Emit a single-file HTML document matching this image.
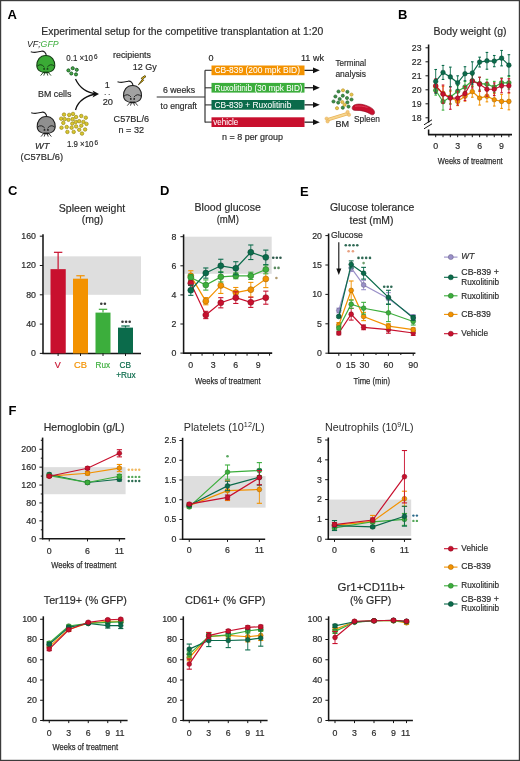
<!DOCTYPE html><html><head><meta charset="utf-8"><style>html,body{margin:0;padding:0;background:#fff;}svg{display:block;will-change:transform;font-family:"Liberation Sans",sans-serif;}</style></head><body>
<svg width="520" height="761" viewBox="0 0 520 761">
<rect x="0.00" y="0.00" width="520.00" height="761.00" fill="#fff" />
<text x="7.5" y="18.6" font-size="13" text-anchor="start" fill="#000" font-weight="bold" font-style="normal" >A</text>
<text x="41.3" y="35.3" font-size="10.5" text-anchor="start" fill="#2b2b2b" font-weight="normal" font-style="normal" textLength="282" lengthAdjust="spacingAndGlyphs"  stroke="#2b2b2b" stroke-width="0.18">Experimental setup for the competitive transplantation at 1:20</text>
<text x="27" y="47.1" font-size="9" font-style="italic" fill="#222" textLength="31.6" lengthAdjust="spacingAndGlyphs">VF;<tspan fill="#3cae3c">GFP</tspan></text>
<path d="M46.40,56.00 C46.00,52.90 44.00,50.60 41.30,51.20 C38.80,51.80 35.80,53.20 30.80,51.80" fill="none" stroke="#1e1e1e" stroke-width="1.15" />
<path d="M45.80,55.40 C52.00,55.40 54.80,60.50 54.80,65.50 C54.80,70.50 50.30,72.60 45.80,72.60 C41.30,72.60 36.80,70.50 36.80,65.50 C36.80,60.50 39.60,55.40 45.80,55.40 Z" fill="#3aaa35" stroke="#163d16" stroke-width="1.05"/>
<path d="M37.20,66.20 Q41.00,62.80 44.40,67.20" fill="none" stroke="#163d16" stroke-width="0.95" />
<path d="M54.40,66.20 Q50.60,62.80 47.20,67.20" fill="none" stroke="#163d16" stroke-width="0.95" />
<circle cx="44.10" cy="68.90" r="0.95" fill="#163d16" stroke="none" stroke-width="0" />
<circle cx="47.50" cy="68.90" r="0.95" fill="#163d16" stroke="none" stroke-width="0" />
<path d="M43.20,72.40 L48.40,72.40" fill="none" stroke="#163d16" stroke-width="1.5" />
<path d="M43.46,72.20 L40.60,75.60" fill="none" stroke="#163d16" stroke-width="0.85" />
<path d="M44.90,72.20 L43.80,75.60" fill="none" stroke="#163d16" stroke-width="0.85" />
<path d="M46.70,72.20 L47.80,75.60" fill="none" stroke="#163d16" stroke-width="0.85" />
<path d="M48.14,72.20 L51.00,75.60" fill="none" stroke="#163d16" stroke-width="0.85" />
<text x="66.3" y="60.5" font-size="8.8" text-anchor="start" fill="#2b2b2b" font-weight="normal" font-style="normal" textLength="26.6" lengthAdjust="spacingAndGlyphs"  stroke="#2b2b2b" stroke-width="0.18">0.1 ×10</text>
<text x="94.0" y="58.6" font-size="6.4" text-anchor="start" fill="#2b2b2b" font-weight="normal" font-style="normal"  stroke="#2b2b2b" stroke-width="0.18">6</text>
<circle cx="68.40" cy="70.40" r="1.55" fill="#45a845" stroke="#175a22" stroke-width="0.9" />
<circle cx="72.70" cy="68.20" r="1.55" fill="#45a845" stroke="#175a22" stroke-width="0.9" />
<circle cx="76.75" cy="69.80" r="1.55" fill="#45a845" stroke="#175a22" stroke-width="0.9" />
<circle cx="71.30" cy="73.50" r="1.55" fill="#45a845" stroke="#175a22" stroke-width="0.9" />
<circle cx="76.00" cy="74.40" r="1.55" fill="#45a845" stroke="#175a22" stroke-width="0.9" />
<text x="38" y="97.3" font-size="9" text-anchor="start" fill="#2b2b2b" font-weight="normal" font-style="normal" textLength="33.5" lengthAdjust="spacingAndGlyphs"  stroke="#2b2b2b" stroke-width="0.18">BM cells</text>
<path d="M75.5,79 C80,89 88,93 97,94" fill="none" stroke="#111" stroke-width="1.3" />
<path d="M75.5,110 C78,100 88,95 97,94" fill="none" stroke="#111" stroke-width="1.3" />
<path d="M99,94 L92.5,90.6 L94.2,94 L92.5,97.4 Z" fill="#111" stroke="none" stroke-width="1" />
<path d="M46.80,117.00 C46.40,113.90 44.40,111.60 41.70,112.20 C39.20,112.80 36.20,114.20 31.20,112.80" fill="none" stroke="#1e1e1e" stroke-width="1.15" />
<path d="M46.20,116.40 C52.40,116.40 55.20,121.50 55.20,126.50 C55.20,131.50 50.70,133.60 46.20,133.60 C41.70,133.60 37.20,131.50 37.20,126.50 C37.20,121.50 40.00,116.40 46.20,116.40 Z" fill="#8f8f8f" stroke="#1e1e1e" stroke-width="1.05"/>
<path d="M37.60,127.20 Q41.40,123.80 44.80,128.20" fill="none" stroke="#1e1e1e" stroke-width="0.95" />
<path d="M54.80,127.20 Q51.00,123.80 47.60,128.20" fill="none" stroke="#1e1e1e" stroke-width="0.95" />
<circle cx="44.50" cy="129.90" r="0.95" fill="#1e1e1e" stroke="none" stroke-width="0" />
<circle cx="47.90" cy="129.90" r="0.95" fill="#1e1e1e" stroke="none" stroke-width="0" />
<path d="M43.60,133.40 L48.80,133.40" fill="none" stroke="#1e1e1e" stroke-width="1.5" />
<path d="M43.86,133.20 L41.00,136.60" fill="none" stroke="#1e1e1e" stroke-width="0.85" />
<path d="M45.30,133.20 L44.20,136.60" fill="none" stroke="#1e1e1e" stroke-width="0.85" />
<path d="M47.10,133.20 L48.20,136.60" fill="none" stroke="#1e1e1e" stroke-width="0.85" />
<path d="M48.54,133.20 L51.40,136.60" fill="none" stroke="#1e1e1e" stroke-width="0.85" />
<circle cx="64.00" cy="114.60" r="1.75" fill="#d9c62c" stroke="#9a8a18" stroke-width="0.7" />
<circle cx="69.20" cy="114.90" r="1.75" fill="#d9c62c" stroke="#9a8a18" stroke-width="0.7" />
<circle cx="73.00" cy="113.90" r="1.75" fill="#d9c62c" stroke="#9a8a18" stroke-width="0.7" />
<circle cx="81.30" cy="116.00" r="1.75" fill="#d9c62c" stroke="#9a8a18" stroke-width="0.7" />
<circle cx="85.80" cy="117.70" r="1.75" fill="#d9c62c" stroke="#9a8a18" stroke-width="0.7" />
<circle cx="61.20" cy="118.70" r="1.75" fill="#d9c62c" stroke="#9a8a18" stroke-width="0.7" />
<circle cx="64.70" cy="119.10" r="1.75" fill="#d9c62c" stroke="#9a8a18" stroke-width="0.7" />
<circle cx="68.50" cy="119.80" r="1.75" fill="#d9c62c" stroke="#9a8a18" stroke-width="0.7" />
<circle cx="72.60" cy="119.10" r="1.75" fill="#d9c62c" stroke="#9a8a18" stroke-width="0.7" />
<circle cx="76.10" cy="117.00" r="1.75" fill="#d9c62c" stroke="#9a8a18" stroke-width="0.7" />
<circle cx="63.30" cy="122.90" r="1.75" fill="#d9c62c" stroke="#9a8a18" stroke-width="0.7" />
<circle cx="72.30" cy="123.60" r="1.75" fill="#d9c62c" stroke="#9a8a18" stroke-width="0.7" />
<circle cx="75.70" cy="121.90" r="1.75" fill="#d9c62c" stroke="#9a8a18" stroke-width="0.7" />
<circle cx="79.20" cy="121.20" r="1.75" fill="#d9c62c" stroke="#9a8a18" stroke-width="0.7" />
<circle cx="83.40" cy="121.90" r="1.75" fill="#d9c62c" stroke="#9a8a18" stroke-width="0.7" />
<circle cx="86.50" cy="123.90" r="1.75" fill="#d9c62c" stroke="#9a8a18" stroke-width="0.7" />
<circle cx="61.50" cy="127.70" r="1.75" fill="#d9c62c" stroke="#9a8a18" stroke-width="0.7" />
<circle cx="66.70" cy="127.00" r="1.75" fill="#d9c62c" stroke="#9a8a18" stroke-width="0.7" />
<circle cx="71.60" cy="127.70" r="1.75" fill="#d9c62c" stroke="#9a8a18" stroke-width="0.7" />
<circle cx="76.10" cy="126.40" r="1.75" fill="#d9c62c" stroke="#9a8a18" stroke-width="0.7" />
<circle cx="81.30" cy="125.70" r="1.75" fill="#d9c62c" stroke="#9a8a18" stroke-width="0.7" />
<circle cx="67.40" cy="131.90" r="1.75" fill="#d9c62c" stroke="#9a8a18" stroke-width="0.7" />
<circle cx="73.70" cy="131.90" r="1.75" fill="#d9c62c" stroke="#9a8a18" stroke-width="0.7" />
<circle cx="79.20" cy="129.80" r="1.75" fill="#d9c62c" stroke="#9a8a18" stroke-width="0.7" />
<circle cx="85.10" cy="129.50" r="1.75" fill="#d9c62c" stroke="#9a8a18" stroke-width="0.7" />
<circle cx="82.00" cy="133.60" r="1.75" fill="#d9c62c" stroke="#9a8a18" stroke-width="0.7" />
<text x="66.9" y="146.9" font-size="8.8" text-anchor="start" fill="#2b2b2b" font-weight="normal" font-style="normal" textLength="26.6" lengthAdjust="spacingAndGlyphs"  stroke="#2b2b2b" stroke-width="0.18">1.9 ×10</text>
<text x="94.6" y="145.0" font-size="6.4" text-anchor="start" fill="#2b2b2b" font-weight="normal" font-style="normal"  stroke="#2b2b2b" stroke-width="0.18">6</text>
<text x="35" y="148.6" font-size="9" text-anchor="start" fill="#2b2b2b" font-weight="normal" font-style="italic" textLength="14.4" lengthAdjust="spacingAndGlyphs"  stroke="#2b2b2b" stroke-width="0.18">WT</text>
<text x="20.6" y="160" font-size="9" text-anchor="start" fill="#2b2b2b" font-weight="normal" font-style="normal" textLength="42.4" lengthAdjust="spacingAndGlyphs"  stroke="#2b2b2b" stroke-width="0.18">(C57BL/6)</text>
<text x="113" y="57.5" font-size="9" text-anchor="start" fill="#2b2b2b" font-weight="normal" font-style="normal" textLength="38" lengthAdjust="spacingAndGlyphs"  stroke="#2b2b2b" stroke-width="0.18">recipients</text>
<text x="132.7" y="70.4" font-size="9" text-anchor="start" fill="#2b2b2b" font-weight="normal" font-style="normal" textLength="24" lengthAdjust="spacingAndGlyphs"  stroke="#2b2b2b" stroke-width="0.18">12 Gy</text>
<path d="M144.8,75.6 L141.2,78.2 L142.2,79.6 L138.4,84.8 L143.6,80.4 L142.6,79.0 L146,76.6 Z" fill="#f0c21a" stroke="#3a3000" stroke-width="0.8" />
<path d="M133.10,86.00 C132.70,82.90 130.70,80.60 128.00,81.20 C125.50,81.80 122.50,83.20 117.50,81.80" fill="none" stroke="#1e1e1e" stroke-width="1.15" />
<path d="M132.50,85.40 C138.70,85.40 141.50,90.50 141.50,95.50 C141.50,100.50 137.00,102.60 132.50,102.60 C128.00,102.60 123.50,100.50 123.50,95.50 C123.50,90.50 126.30,85.40 132.50,85.40 Z" fill="#a2a2a2" stroke="#1e1e1e" stroke-width="1.05"/>
<path d="M123.90,96.20 Q127.70,92.80 131.10,97.20" fill="none" stroke="#1e1e1e" stroke-width="0.95" />
<path d="M141.10,96.20 Q137.30,92.80 133.90,97.20" fill="none" stroke="#1e1e1e" stroke-width="0.95" />
<circle cx="130.80" cy="98.90" r="0.95" fill="#1e1e1e" stroke="none" stroke-width="0" />
<circle cx="134.20" cy="98.90" r="0.95" fill="#1e1e1e" stroke="none" stroke-width="0" />
<path d="M129.90,102.40 L135.10,102.40" fill="none" stroke="#1e1e1e" stroke-width="1.5" />
<path d="M130.16,102.20 L127.30,105.60" fill="none" stroke="#1e1e1e" stroke-width="0.85" />
<path d="M131.60,102.20 L130.50,105.60" fill="none" stroke="#1e1e1e" stroke-width="0.85" />
<path d="M133.40,102.20 L134.50,105.60" fill="none" stroke="#1e1e1e" stroke-width="0.85" />
<path d="M134.84,102.20 L137.70,105.60" fill="none" stroke="#1e1e1e" stroke-width="0.85" />
<text x="107.2" y="88" font-size="9" text-anchor="middle" fill="#2b2b2b" font-weight="normal" font-style="normal"  stroke="#2b2b2b" stroke-width="0.18">1</text>
<text x="107.2" y="95.2" font-size="7" text-anchor="middle" fill="#2b2b2b" font-weight="normal" font-style="normal"  stroke="#2b2b2b" stroke-width="0.18">. .</text>
<text x="102.7" y="104.6" font-size="9" text-anchor="start" fill="#2b2b2b" font-weight="normal" font-style="normal" textLength="10.3" lengthAdjust="spacingAndGlyphs"  stroke="#2b2b2b" stroke-width="0.18">20</text>
<text x="113.6" y="122" font-size="9" text-anchor="start" fill="#2b2b2b" font-weight="normal" font-style="normal" textLength="35.4" lengthAdjust="spacingAndGlyphs"  stroke="#2b2b2b" stroke-width="0.18">C57BL/6</text>
<text x="118.5" y="132.5" font-size="9" text-anchor="start" fill="#2b2b2b" font-weight="normal" font-style="normal" textLength="25.5" lengthAdjust="spacingAndGlyphs"  stroke="#2b2b2b" stroke-width="0.18">n = 32</text>
<line x1="156.70" y1="97.00" x2="205.00" y2="97.00" stroke="#333" stroke-width="1.2" />
<line x1="205.00" y1="70.30" x2="205.00" y2="122.60" stroke="#333" stroke-width="1.2" />
<line x1="205.00" y1="70.30" x2="212.00" y2="70.30" stroke="#333" stroke-width="1.1" />
<line x1="205.00" y1="87.80" x2="212.00" y2="87.80" stroke="#333" stroke-width="1.1" />
<line x1="205.00" y1="104.90" x2="212.00" y2="104.90" stroke="#333" stroke-width="1.1" />
<line x1="205.00" y1="122.10" x2="212.00" y2="122.10" stroke="#333" stroke-width="1.1" />
<text x="163" y="93.3" font-size="9" text-anchor="start" fill="#2b2b2b" font-weight="normal" font-style="normal" textLength="32" lengthAdjust="spacingAndGlyphs"  stroke="#2b2b2b" stroke-width="0.18">6 weeks</text>
<text x="160.6" y="108.6" font-size="9" text-anchor="start" fill="#2b2b2b" font-weight="normal" font-style="normal" textLength="36.4" lengthAdjust="spacingAndGlyphs"  stroke="#2b2b2b" stroke-width="0.18">to engraft</text>
<text x="208.6" y="60.6" font-size="9" text-anchor="start" fill="#2b2b2b" font-weight="normal" font-style="normal"  stroke="#2b2b2b" stroke-width="0.18">0</text>
<text x="301" y="60.6" font-size="9" text-anchor="start" fill="#2b2b2b" font-weight="normal" font-style="normal" textLength="23" lengthAdjust="spacingAndGlyphs"  stroke="#2b2b2b" stroke-width="0.18">11 wk</text>
<rect x="211.50" y="65.50" width="93.00" height="9.70" fill="#f39200" />
<text x="214.5" y="73.4" font-size="8.6" text-anchor="start" fill="#fff" font-weight="normal" font-style="normal" textLength="85.5" lengthAdjust="spacingAndGlyphs" stroke="#fff" stroke-width="0.05">CB-839 (200 mpk BID)</text>
<line x1="304.50" y1="70.35" x2="314.00" y2="70.35" stroke="#111" stroke-width="1.2" />
<path d="M319.8,70.35 L313,67.40 L313,73.30 Z" fill="#111" stroke="none" stroke-width="1" />
<rect x="211.50" y="82.90" width="93.00" height="9.70" fill="#3cae3c" />
<text x="214.5" y="90.80000000000001" font-size="8.6" text-anchor="start" fill="#fff" font-weight="normal" font-style="normal" textLength="88" lengthAdjust="spacingAndGlyphs" stroke="#fff" stroke-width="0.05">Ruxolitinib (30 mpk BID)</text>
<line x1="304.50" y1="87.75" x2="314.00" y2="87.75" stroke="#111" stroke-width="1.2" />
<path d="M319.8,87.75 L313,84.80 L313,90.70 Z" fill="#111" stroke="none" stroke-width="1" />
<rect x="211.50" y="100.00" width="93.00" height="9.70" fill="#0b6b4b" />
<text x="214.5" y="107.9" font-size="8.6" text-anchor="start" fill="#fff" font-weight="normal" font-style="normal" textLength="76.8" lengthAdjust="spacingAndGlyphs" stroke="#fff" stroke-width="0.05">CB-839 + Ruxolitinib</text>
<line x1="304.50" y1="104.85" x2="314.00" y2="104.85" stroke="#111" stroke-width="1.2" />
<path d="M319.8,104.85 L313,101.90 L313,107.80 Z" fill="#111" stroke="none" stroke-width="1" />
<rect x="211.50" y="117.30" width="93.00" height="9.70" fill="#c8102e" />
<text x="213.2" y="125.2" font-size="8.6" text-anchor="start" fill="#fff" font-weight="normal" font-style="normal" textLength="25" lengthAdjust="spacingAndGlyphs" stroke="#fff" stroke-width="0.05">vehicle</text>
<line x1="304.50" y1="122.15" x2="314.00" y2="122.15" stroke="#111" stroke-width="1.2" />
<path d="M319.8,122.15 L313,119.20 L313,125.10 Z" fill="#111" stroke="none" stroke-width="1" />
<text x="222" y="139.8" font-size="9" text-anchor="start" fill="#2b2b2b" font-weight="normal" font-style="normal" textLength="61" lengthAdjust="spacingAndGlyphs"  stroke="#2b2b2b" stroke-width="0.18">n = 8 per group</text>
<text x="335.4" y="66" font-size="9" text-anchor="start" fill="#2b2b2b" font-weight="normal" font-style="normal" textLength="30.6" lengthAdjust="spacingAndGlyphs"  stroke="#2b2b2b" stroke-width="0.18">Terminal</text>
<text x="335.4" y="76.8" font-size="9" text-anchor="start" fill="#2b2b2b" font-weight="normal" font-style="normal" textLength="30.6" lengthAdjust="spacingAndGlyphs"  stroke="#2b2b2b" stroke-width="0.18">analysis</text>
<circle cx="338.50" cy="91.50" r="1.60" fill="#3d8f45" stroke="#1f5a2a" stroke-width="0.6" />
<circle cx="343.00" cy="90.30" r="1.60" fill="#e6c64a" stroke="#b8902a" stroke-width="0.6" />
<circle cx="347.40" cy="91.80" r="1.60" fill="#3d8f45" stroke="#1f5a2a" stroke-width="0.6" />
<circle cx="351.50" cy="94.60" r="1.60" fill="#e6c64a" stroke="#b8902a" stroke-width="0.6" />
<circle cx="335.40" cy="96.50" r="1.60" fill="#3d8f45" stroke="#1f5a2a" stroke-width="0.6" />
<circle cx="342.80" cy="95.70" r="1.60" fill="#3d8f45" stroke="#1f5a2a" stroke-width="0.6" />
<circle cx="339.70" cy="99.00" r="1.60" fill="#3d8f45" stroke="#1f5a2a" stroke-width="0.6" />
<circle cx="347.00" cy="98.00" r="1.60" fill="#3d8f45" stroke="#1f5a2a" stroke-width="0.6" />
<circle cx="351.50" cy="99.50" r="1.60" fill="#3d8f45" stroke="#1f5a2a" stroke-width="0.6" />
<circle cx="333.50" cy="101.50" r="1.60" fill="#3d8f45" stroke="#1f5a2a" stroke-width="0.6" />
<circle cx="338.20" cy="102.60" r="1.60" fill="#3d8f45" stroke="#1f5a2a" stroke-width="0.6" />
<circle cx="342.30" cy="102.00" r="1.60" fill="#e6c64a" stroke="#b8902a" stroke-width="0.6" />
<circle cx="347.40" cy="102.30" r="1.60" fill="#3d8f45" stroke="#1f5a2a" stroke-width="0.6" />
<circle cx="337.00" cy="108.20" r="1.60" fill="#e6c64a" stroke="#b8902a" stroke-width="0.6" />
<circle cx="342.80" cy="107.70" r="1.60" fill="#3d8f45" stroke="#1f5a2a" stroke-width="0.6" />
<circle cx="348.50" cy="106.60" r="1.60" fill="#3d8f45" stroke="#1f5a2a" stroke-width="0.6" />
<circle cx="344.60" cy="104.80" r="1.60" fill="#e6c64a" stroke="#b8902a" stroke-width="0.6" />
<path d="M328,119.6 L347.6,113.6" fill="none" stroke="#e9b45a" stroke-width="3.4" stroke-linecap="round"/>
<path d="M328,119.6 L347.6,113.6" fill="none" stroke="#f7d58e" stroke-width="2.0" stroke-linecap="round"/>
<circle cx="326.60" cy="118.60" r="1.70" fill="#f3c878" stroke="#e0a850" stroke-width="0.4" />
<circle cx="327.60" cy="121.40" r="1.70" fill="#f3c878" stroke="#e0a850" stroke-width="0.4" />
<circle cx="347.60" cy="112.00" r="1.70" fill="#f3c878" stroke="#e0a850" stroke-width="0.4" />
<circle cx="349.00" cy="114.80" r="1.70" fill="#f3c878" stroke="#e0a850" stroke-width="0.4" />
<path d="M352.3,107.2 C353.5,103.6 360,103.4 365.5,105.2 C370.5,106.8 374.8,109.5 374.6,112.6 C374.4,115.2 371.8,115.4 369.8,113.8 C366.5,111.4 361,110.2 356,110.4 C353.2,110.6 351.6,109.4 352.3,107.2 Z" fill="#c8102e" stroke="#8f0c22" stroke-width="0.6" />
<path d="M355,106.3 C359,105.6 364,106.2 367.5,107.5" fill="none" stroke="#e4506a" stroke-width="0.7" />
<text x="354" y="122" font-size="9" text-anchor="start" fill="#2b2b2b" font-weight="normal" font-style="normal" textLength="26" lengthAdjust="spacingAndGlyphs"  stroke="#2b2b2b" stroke-width="0.18">Spleen</text>
<text x="335.4" y="127" font-size="9" text-anchor="start" fill="#2b2b2b" font-weight="normal" font-style="normal" textLength="13.6" lengthAdjust="spacingAndGlyphs"  stroke="#2b2b2b" stroke-width="0.18">BM</text>
<text x="398" y="18.8" font-size="13" text-anchor="start" fill="#000" font-weight="bold" font-style="normal" >B</text>
<text x="433.5" y="35.2" font-size="10.5" text-anchor="start" fill="#2b2b2b" font-weight="normal" font-style="normal" textLength="73" lengthAdjust="spacingAndGlyphs"  stroke="#2b2b2b" stroke-width="0.18">Body weight (g)</text>
<line x1="428.60" y1="44.50" x2="428.60" y2="122.50" stroke="#161616" stroke-width="1.55" />
<line x1="428.60" y1="129.50" x2="428.60" y2="134.60" stroke="#161616" stroke-width="1.55" />
<line x1="424.00" y1="124.80" x2="432.00" y2="119.80" stroke="#161616" stroke-width="1.0" />
<line x1="424.00" y1="128.80" x2="432.00" y2="123.80" stroke="#161616" stroke-width="1.0" />
<line x1="425.50" y1="47.80" x2="428.60" y2="47.80" stroke="#161616" stroke-width="1" />
<text x="421.5" y="50.699999999999996" font-size="8.2" text-anchor="end" fill="#2b2b2b" font-weight="normal" font-style="normal" textLength="9.7" lengthAdjust="spacingAndGlyphs"  stroke="#2b2b2b" stroke-width="0.18">23</text>
<line x1="425.50" y1="61.80" x2="428.60" y2="61.80" stroke="#161616" stroke-width="1" />
<text x="421.5" y="64.7" font-size="8.2" text-anchor="end" fill="#2b2b2b" font-weight="normal" font-style="normal" textLength="9.7" lengthAdjust="spacingAndGlyphs"  stroke="#2b2b2b" stroke-width="0.18">22</text>
<line x1="425.50" y1="75.80" x2="428.60" y2="75.80" stroke="#161616" stroke-width="1" />
<text x="421.5" y="78.7" font-size="8.2" text-anchor="end" fill="#2b2b2b" font-weight="normal" font-style="normal" textLength="9.7" lengthAdjust="spacingAndGlyphs"  stroke="#2b2b2b" stroke-width="0.18">21</text>
<line x1="425.50" y1="89.80" x2="428.60" y2="89.80" stroke="#161616" stroke-width="1" />
<text x="421.5" y="92.7" font-size="8.2" text-anchor="end" fill="#2b2b2b" font-weight="normal" font-style="normal" textLength="9.7" lengthAdjust="spacingAndGlyphs"  stroke="#2b2b2b" stroke-width="0.18">20</text>
<line x1="425.50" y1="103.80" x2="428.60" y2="103.80" stroke="#161616" stroke-width="1" />
<text x="421.5" y="106.7" font-size="8.2" text-anchor="end" fill="#2b2b2b" font-weight="normal" font-style="normal" textLength="9.7" lengthAdjust="spacingAndGlyphs"  stroke="#2b2b2b" stroke-width="0.18">19</text>
<line x1="425.50" y1="117.80" x2="428.60" y2="117.80" stroke="#161616" stroke-width="1" />
<text x="421.5" y="120.7" font-size="8.2" text-anchor="end" fill="#2b2b2b" font-weight="normal" font-style="normal" textLength="9.7" lengthAdjust="spacingAndGlyphs"  stroke="#2b2b2b" stroke-width="0.18">18</text>
<line x1="428.00" y1="134.60" x2="512.00" y2="134.60" stroke="#161616" stroke-width="1.55" />
<line x1="435.70" y1="134.60" x2="435.70" y2="137.20" stroke="#161616" stroke-width="1" />
<line x1="443.02" y1="134.60" x2="443.02" y2="137.20" stroke="#161616" stroke-width="1" />
<line x1="450.34" y1="134.60" x2="450.34" y2="137.20" stroke="#161616" stroke-width="1" />
<line x1="457.66" y1="134.60" x2="457.66" y2="137.20" stroke="#161616" stroke-width="1" />
<line x1="464.98" y1="134.60" x2="464.98" y2="137.20" stroke="#161616" stroke-width="1" />
<line x1="472.30" y1="134.60" x2="472.30" y2="137.20" stroke="#161616" stroke-width="1" />
<line x1="479.62" y1="134.60" x2="479.62" y2="137.20" stroke="#161616" stroke-width="1" />
<line x1="486.94" y1="134.60" x2="486.94" y2="137.20" stroke="#161616" stroke-width="1" />
<line x1="494.26" y1="134.60" x2="494.26" y2="137.20" stroke="#161616" stroke-width="1" />
<line x1="501.58" y1="134.60" x2="501.58" y2="137.20" stroke="#161616" stroke-width="1" />
<line x1="508.90" y1="134.60" x2="508.90" y2="137.20" stroke="#161616" stroke-width="1" />
<text x="435.7" y="148.8" font-size="8.2" text-anchor="middle" fill="#2b2b2b" font-weight="normal" font-style="normal" textLength="4.9" lengthAdjust="spacingAndGlyphs"  stroke="#2b2b2b" stroke-width="0.18">0</text>
<text x="457.65999999999997" y="148.8" font-size="8.2" text-anchor="middle" fill="#2b2b2b" font-weight="normal" font-style="normal" textLength="4.9" lengthAdjust="spacingAndGlyphs"  stroke="#2b2b2b" stroke-width="0.18">3</text>
<text x="479.62" y="148.8" font-size="8.2" text-anchor="middle" fill="#2b2b2b" font-weight="normal" font-style="normal" textLength="4.9" lengthAdjust="spacingAndGlyphs"  stroke="#2b2b2b" stroke-width="0.18">6</text>
<text x="501.58" y="148.8" font-size="8.2" text-anchor="middle" fill="#2b2b2b" font-weight="normal" font-style="normal" textLength="4.9" lengthAdjust="spacingAndGlyphs"  stroke="#2b2b2b" stroke-width="0.18">9</text>
<text x="437.8" y="163.6" font-size="9.9" text-anchor="start" fill="#2b2b2b" font-weight="normal" font-style="normal" textLength="64.9" lengthAdjust="spacingAndGlyphs" stroke="#2b2b2b" stroke-width="0.25">Weeks of treatment</text>
<path d="M435.70,86.30 L443.02,93.30 L450.34,97.50 L457.66,101.42 L464.98,96.24 L472.30,91.62 L479.62,98.06 L486.94,96.24 L494.26,99.74 L501.58,101.42 L508.90,101.42" fill="none" stroke="#f39200" stroke-width="1.2" />
<line x1="435.70" y1="80.00" x2="435.70" y2="92.60" stroke="#f39200" stroke-width="0.9" />
<line x1="434.40" y1="80.00" x2="437.00" y2="80.00" stroke="#f39200" stroke-width="1.1" />
<line x1="434.40" y1="92.60" x2="437.00" y2="92.60" stroke="#f39200" stroke-width="1.1" />
<line x1="443.02" y1="86.30" x2="443.02" y2="100.30" stroke="#f39200" stroke-width="0.9" />
<line x1="441.72" y1="86.30" x2="444.32" y2="86.30" stroke="#f39200" stroke-width="1.1" />
<line x1="441.72" y1="100.30" x2="444.32" y2="100.30" stroke="#f39200" stroke-width="1.1" />
<line x1="450.34" y1="91.20" x2="450.34" y2="103.80" stroke="#f39200" stroke-width="0.9" />
<line x1="449.04" y1="91.20" x2="451.64" y2="91.20" stroke="#f39200" stroke-width="1.1" />
<line x1="449.04" y1="103.80" x2="451.64" y2="103.80" stroke="#f39200" stroke-width="1.1" />
<line x1="457.66" y1="97.22" x2="457.66" y2="105.62" stroke="#f39200" stroke-width="0.9" />
<line x1="456.36" y1="97.22" x2="458.96" y2="97.22" stroke="#f39200" stroke-width="1.1" />
<line x1="456.36" y1="105.62" x2="458.96" y2="105.62" stroke="#f39200" stroke-width="1.1" />
<line x1="464.98" y1="91.34" x2="464.98" y2="101.14" stroke="#f39200" stroke-width="0.9" />
<line x1="463.68" y1="91.34" x2="466.28" y2="91.34" stroke="#f39200" stroke-width="1.1" />
<line x1="463.68" y1="101.14" x2="466.28" y2="101.14" stroke="#f39200" stroke-width="1.1" />
<line x1="472.30" y1="86.02" x2="472.30" y2="97.22" stroke="#f39200" stroke-width="0.9" />
<line x1="471.00" y1="86.02" x2="473.60" y2="86.02" stroke="#f39200" stroke-width="1.1" />
<line x1="471.00" y1="97.22" x2="473.60" y2="97.22" stroke="#f39200" stroke-width="1.1" />
<line x1="479.62" y1="91.06" x2="479.62" y2="105.06" stroke="#f39200" stroke-width="0.9" />
<line x1="478.32" y1="91.06" x2="480.92" y2="91.06" stroke="#f39200" stroke-width="1.1" />
<line x1="478.32" y1="105.06" x2="480.92" y2="105.06" stroke="#f39200" stroke-width="1.1" />
<line x1="486.94" y1="90.64" x2="486.94" y2="101.84" stroke="#f39200" stroke-width="0.9" />
<line x1="485.64" y1="90.64" x2="488.24" y2="90.64" stroke="#f39200" stroke-width="1.1" />
<line x1="485.64" y1="101.84" x2="488.24" y2="101.84" stroke="#f39200" stroke-width="1.1" />
<line x1="494.26" y1="93.44" x2="494.26" y2="106.04" stroke="#f39200" stroke-width="0.9" />
<line x1="492.96" y1="93.44" x2="495.56" y2="93.44" stroke="#f39200" stroke-width="1.1" />
<line x1="492.96" y1="106.04" x2="495.56" y2="106.04" stroke="#f39200" stroke-width="1.1" />
<line x1="501.58" y1="94.42" x2="501.58" y2="108.42" stroke="#f39200" stroke-width="0.9" />
<line x1="500.28" y1="94.42" x2="502.88" y2="94.42" stroke="#f39200" stroke-width="1.1" />
<line x1="500.28" y1="108.42" x2="502.88" y2="108.42" stroke="#f39200" stroke-width="1.1" />
<line x1="508.90" y1="93.02" x2="508.90" y2="109.82" stroke="#f39200" stroke-width="0.9" />
<line x1="507.60" y1="93.02" x2="510.20" y2="93.02" stroke="#f39200" stroke-width="1.1" />
<line x1="507.60" y1="109.82" x2="510.20" y2="109.82" stroke="#f39200" stroke-width="1.1" />
<circle cx="435.70" cy="86.30" r="2.30" fill="#f39200" stroke="#9d5e00" stroke-width="0.5" />
<circle cx="443.02" cy="93.30" r="2.30" fill="#f39200" stroke="#9d5e00" stroke-width="0.5" />
<circle cx="450.34" cy="97.50" r="2.30" fill="#f39200" stroke="#9d5e00" stroke-width="0.5" />
<circle cx="457.66" cy="101.42" r="2.30" fill="#f39200" stroke="#9d5e00" stroke-width="0.5" />
<circle cx="464.98" cy="96.24" r="2.30" fill="#f39200" stroke="#9d5e00" stroke-width="0.5" />
<circle cx="472.30" cy="91.62" r="2.30" fill="#f39200" stroke="#9d5e00" stroke-width="0.5" />
<circle cx="479.62" cy="98.06" r="2.30" fill="#f39200" stroke="#9d5e00" stroke-width="0.5" />
<circle cx="486.94" cy="96.24" r="2.30" fill="#f39200" stroke="#9d5e00" stroke-width="0.5" />
<circle cx="494.26" cy="99.74" r="2.30" fill="#f39200" stroke="#9d5e00" stroke-width="0.5" />
<circle cx="501.58" cy="101.42" r="2.30" fill="#f39200" stroke="#9d5e00" stroke-width="0.5" />
<circle cx="508.90" cy="101.42" r="2.30" fill="#f39200" stroke="#9d5e00" stroke-width="0.5" />
<path d="M435.70,90.22 L443.02,101.70 L450.34,97.08 L457.66,91.20 L464.98,87.00 L472.30,80.70 L479.62,83.64 L486.94,84.20 L494.26,87.00 L501.58,82.80 L508.90,82.80" fill="none" stroke="#3cae3c" stroke-width="1.2" />
<line x1="435.70" y1="85.32" x2="435.70" y2="95.12" stroke="#3cae3c" stroke-width="0.9" />
<line x1="434.40" y1="85.32" x2="437.00" y2="85.32" stroke="#3cae3c" stroke-width="1.1" />
<line x1="434.40" y1="95.12" x2="437.00" y2="95.12" stroke="#3cae3c" stroke-width="1.1" />
<line x1="443.02" y1="93.30" x2="443.02" y2="110.10" stroke="#3cae3c" stroke-width="0.9" />
<line x1="441.72" y1="93.30" x2="444.32" y2="93.30" stroke="#3cae3c" stroke-width="1.1" />
<line x1="441.72" y1="110.10" x2="444.32" y2="110.10" stroke="#3cae3c" stroke-width="1.1" />
<line x1="450.34" y1="90.08" x2="450.34" y2="104.08" stroke="#3cae3c" stroke-width="0.9" />
<line x1="449.04" y1="90.08" x2="451.64" y2="90.08" stroke="#3cae3c" stroke-width="1.1" />
<line x1="449.04" y1="104.08" x2="451.64" y2="104.08" stroke="#3cae3c" stroke-width="1.1" />
<line x1="457.66" y1="85.60" x2="457.66" y2="96.80" stroke="#3cae3c" stroke-width="0.9" />
<line x1="456.36" y1="85.60" x2="458.96" y2="85.60" stroke="#3cae3c" stroke-width="1.1" />
<line x1="456.36" y1="96.80" x2="458.96" y2="96.80" stroke="#3cae3c" stroke-width="1.1" />
<line x1="464.98" y1="81.40" x2="464.98" y2="92.60" stroke="#3cae3c" stroke-width="0.9" />
<line x1="463.68" y1="81.40" x2="466.28" y2="81.40" stroke="#3cae3c" stroke-width="1.1" />
<line x1="463.68" y1="92.60" x2="466.28" y2="92.60" stroke="#3cae3c" stroke-width="1.1" />
<line x1="472.30" y1="75.10" x2="472.30" y2="86.30" stroke="#3cae3c" stroke-width="0.9" />
<line x1="471.00" y1="75.10" x2="473.60" y2="75.10" stroke="#3cae3c" stroke-width="1.1" />
<line x1="471.00" y1="86.30" x2="473.60" y2="86.30" stroke="#3cae3c" stroke-width="1.1" />
<line x1="479.62" y1="77.34" x2="479.62" y2="89.94" stroke="#3cae3c" stroke-width="0.9" />
<line x1="478.32" y1="77.34" x2="480.92" y2="77.34" stroke="#3cae3c" stroke-width="1.1" />
<line x1="478.32" y1="89.94" x2="480.92" y2="89.94" stroke="#3cae3c" stroke-width="1.1" />
<line x1="486.94" y1="79.30" x2="486.94" y2="89.10" stroke="#3cae3c" stroke-width="0.9" />
<line x1="485.64" y1="79.30" x2="488.24" y2="79.30" stroke="#3cae3c" stroke-width="1.1" />
<line x1="485.64" y1="89.10" x2="488.24" y2="89.10" stroke="#3cae3c" stroke-width="1.1" />
<line x1="494.26" y1="81.40" x2="494.26" y2="92.60" stroke="#3cae3c" stroke-width="0.9" />
<line x1="492.96" y1="81.40" x2="495.56" y2="81.40" stroke="#3cae3c" stroke-width="1.1" />
<line x1="492.96" y1="92.60" x2="495.56" y2="92.60" stroke="#3cae3c" stroke-width="1.1" />
<line x1="501.58" y1="77.90" x2="501.58" y2="87.70" stroke="#3cae3c" stroke-width="0.9" />
<line x1="500.28" y1="77.90" x2="502.88" y2="77.90" stroke="#3cae3c" stroke-width="1.1" />
<line x1="500.28" y1="87.70" x2="502.88" y2="87.70" stroke="#3cae3c" stroke-width="1.1" />
<line x1="508.90" y1="76.50" x2="508.90" y2="89.10" stroke="#3cae3c" stroke-width="0.9" />
<line x1="507.60" y1="76.50" x2="510.20" y2="76.50" stroke="#3cae3c" stroke-width="1.1" />
<line x1="507.60" y1="89.10" x2="510.20" y2="89.10" stroke="#3cae3c" stroke-width="1.1" />
<circle cx="435.70" cy="90.22" r="2.30" fill="#3cae3c" stroke="#277127" stroke-width="0.5" />
<circle cx="443.02" cy="101.70" r="2.30" fill="#3cae3c" stroke="#277127" stroke-width="0.5" />
<circle cx="450.34" cy="97.08" r="2.30" fill="#3cae3c" stroke="#277127" stroke-width="0.5" />
<circle cx="457.66" cy="91.20" r="2.30" fill="#3cae3c" stroke="#277127" stroke-width="0.5" />
<circle cx="464.98" cy="87.00" r="2.30" fill="#3cae3c" stroke="#277127" stroke-width="0.5" />
<circle cx="472.30" cy="80.70" r="2.30" fill="#3cae3c" stroke="#277127" stroke-width="0.5" />
<circle cx="479.62" cy="83.64" r="2.30" fill="#3cae3c" stroke="#277127" stroke-width="0.5" />
<circle cx="486.94" cy="84.20" r="2.30" fill="#3cae3c" stroke="#277127" stroke-width="0.5" />
<circle cx="494.26" cy="87.00" r="2.30" fill="#3cae3c" stroke="#277127" stroke-width="0.5" />
<circle cx="501.58" cy="82.80" r="2.30" fill="#3cae3c" stroke="#277127" stroke-width="0.5" />
<circle cx="508.90" cy="82.80" r="2.30" fill="#3cae3c" stroke="#277127" stroke-width="0.5" />
<path d="M435.70,85.74 L443.02,94.14 L450.34,98.06 L457.66,98.06 L464.98,93.58 L472.30,80.98 L479.62,84.20 L486.94,89.24 L494.26,89.24 L501.58,85.74 L508.90,85.74" fill="none" stroke="#c8102e" stroke-width="1.2" />
<line x1="435.70" y1="78.74" x2="435.70" y2="92.74" stroke="#c8102e" stroke-width="0.9" />
<line x1="434.40" y1="78.74" x2="437.00" y2="78.74" stroke="#c8102e" stroke-width="1.1" />
<line x1="434.40" y1="92.74" x2="437.00" y2="92.74" stroke="#c8102e" stroke-width="1.1" />
<line x1="443.02" y1="85.04" x2="443.02" y2="103.24" stroke="#c8102e" stroke-width="0.9" />
<line x1="441.72" y1="85.04" x2="444.32" y2="85.04" stroke="#c8102e" stroke-width="1.1" />
<line x1="441.72" y1="103.24" x2="444.32" y2="103.24" stroke="#c8102e" stroke-width="1.1" />
<line x1="450.34" y1="86.86" x2="450.34" y2="109.26" stroke="#c8102e" stroke-width="0.9" />
<line x1="449.04" y1="86.86" x2="451.64" y2="86.86" stroke="#c8102e" stroke-width="1.1" />
<line x1="449.04" y1="109.26" x2="451.64" y2="109.26" stroke="#c8102e" stroke-width="1.1" />
<line x1="457.66" y1="91.06" x2="457.66" y2="105.06" stroke="#c8102e" stroke-width="0.9" />
<line x1="456.36" y1="91.06" x2="458.96" y2="91.06" stroke="#c8102e" stroke-width="1.1" />
<line x1="456.36" y1="105.06" x2="458.96" y2="105.06" stroke="#c8102e" stroke-width="1.1" />
<line x1="464.98" y1="86.58" x2="464.98" y2="100.58" stroke="#c8102e" stroke-width="0.9" />
<line x1="463.68" y1="86.58" x2="466.28" y2="86.58" stroke="#c8102e" stroke-width="1.1" />
<line x1="463.68" y1="100.58" x2="466.28" y2="100.58" stroke="#c8102e" stroke-width="1.1" />
<line x1="472.30" y1="73.98" x2="472.30" y2="87.98" stroke="#c8102e" stroke-width="0.9" />
<line x1="471.00" y1="73.98" x2="473.60" y2="73.98" stroke="#c8102e" stroke-width="1.1" />
<line x1="471.00" y1="87.98" x2="473.60" y2="87.98" stroke="#c8102e" stroke-width="1.1" />
<line x1="479.62" y1="77.20" x2="479.62" y2="91.20" stroke="#c8102e" stroke-width="0.9" />
<line x1="478.32" y1="77.20" x2="480.92" y2="77.20" stroke="#c8102e" stroke-width="1.1" />
<line x1="478.32" y1="91.20" x2="480.92" y2="91.20" stroke="#c8102e" stroke-width="1.1" />
<line x1="486.94" y1="82.24" x2="486.94" y2="96.24" stroke="#c8102e" stroke-width="0.9" />
<line x1="485.64" y1="82.24" x2="488.24" y2="82.24" stroke="#c8102e" stroke-width="1.1" />
<line x1="485.64" y1="96.24" x2="488.24" y2="96.24" stroke="#c8102e" stroke-width="1.1" />
<line x1="494.26" y1="82.94" x2="494.26" y2="95.54" stroke="#c8102e" stroke-width="0.9" />
<line x1="492.96" y1="82.94" x2="495.56" y2="82.94" stroke="#c8102e" stroke-width="1.1" />
<line x1="492.96" y1="95.54" x2="495.56" y2="95.54" stroke="#c8102e" stroke-width="1.1" />
<line x1="501.58" y1="78.74" x2="501.58" y2="92.74" stroke="#c8102e" stroke-width="0.9" />
<line x1="500.28" y1="78.74" x2="502.88" y2="78.74" stroke="#c8102e" stroke-width="1.1" />
<line x1="500.28" y1="92.74" x2="502.88" y2="92.74" stroke="#c8102e" stroke-width="1.1" />
<line x1="508.90" y1="78.74" x2="508.90" y2="92.74" stroke="#c8102e" stroke-width="0.9" />
<line x1="507.60" y1="78.74" x2="510.20" y2="78.74" stroke="#c8102e" stroke-width="1.1" />
<line x1="507.60" y1="92.74" x2="510.20" y2="92.74" stroke="#c8102e" stroke-width="1.1" />
<circle cx="435.70" cy="85.74" r="2.30" fill="#c8102e" stroke="#820a1d" stroke-width="0.5" />
<circle cx="443.02" cy="94.14" r="2.30" fill="#c8102e" stroke="#820a1d" stroke-width="0.5" />
<circle cx="450.34" cy="98.06" r="2.30" fill="#c8102e" stroke="#820a1d" stroke-width="0.5" />
<circle cx="457.66" cy="98.06" r="2.30" fill="#c8102e" stroke="#820a1d" stroke-width="0.5" />
<circle cx="464.98" cy="93.58" r="2.30" fill="#c8102e" stroke="#820a1d" stroke-width="0.5" />
<circle cx="472.30" cy="80.98" r="2.30" fill="#c8102e" stroke="#820a1d" stroke-width="0.5" />
<circle cx="479.62" cy="84.20" r="2.30" fill="#c8102e" stroke="#820a1d" stroke-width="0.5" />
<circle cx="486.94" cy="89.24" r="2.30" fill="#c8102e" stroke="#820a1d" stroke-width="0.5" />
<circle cx="494.26" cy="89.24" r="2.30" fill="#c8102e" stroke="#820a1d" stroke-width="0.5" />
<circle cx="501.58" cy="85.74" r="2.30" fill="#c8102e" stroke="#820a1d" stroke-width="0.5" />
<circle cx="508.90" cy="85.74" r="2.30" fill="#c8102e" stroke="#820a1d" stroke-width="0.5" />
<path d="M435.70,81.40 L443.02,72.44 L450.34,76.92 L457.66,82.80 L464.98,73.70 L472.30,73.00 L479.62,62.08 L486.94,60.82 L494.26,61.10 L501.58,58.16 L508.90,65.16" fill="none" stroke="#0b6b4b" stroke-width="1.2" />
<line x1="435.70" y1="69.50" x2="435.70" y2="93.30" stroke="#0b6b4b" stroke-width="0.9" />
<line x1="434.40" y1="69.50" x2="437.00" y2="69.50" stroke="#0b6b4b" stroke-width="1.1" />
<line x1="434.40" y1="93.30" x2="437.00" y2="93.30" stroke="#0b6b4b" stroke-width="1.1" />
<line x1="443.02" y1="65.44" x2="443.02" y2="79.44" stroke="#0b6b4b" stroke-width="0.9" />
<line x1="441.72" y1="65.44" x2="444.32" y2="65.44" stroke="#0b6b4b" stroke-width="1.1" />
<line x1="441.72" y1="79.44" x2="444.32" y2="79.44" stroke="#0b6b4b" stroke-width="1.1" />
<line x1="450.34" y1="67.12" x2="450.34" y2="86.72" stroke="#0b6b4b" stroke-width="0.9" />
<line x1="449.04" y1="67.12" x2="451.64" y2="67.12" stroke="#0b6b4b" stroke-width="1.1" />
<line x1="449.04" y1="86.72" x2="451.64" y2="86.72" stroke="#0b6b4b" stroke-width="1.1" />
<line x1="457.66" y1="75.80" x2="457.66" y2="89.80" stroke="#0b6b4b" stroke-width="0.9" />
<line x1="456.36" y1="75.80" x2="458.96" y2="75.80" stroke="#0b6b4b" stroke-width="1.1" />
<line x1="456.36" y1="89.80" x2="458.96" y2="89.80" stroke="#0b6b4b" stroke-width="1.1" />
<line x1="464.98" y1="66.70" x2="464.98" y2="80.70" stroke="#0b6b4b" stroke-width="0.9" />
<line x1="463.68" y1="66.70" x2="466.28" y2="66.70" stroke="#0b6b4b" stroke-width="1.1" />
<line x1="463.68" y1="80.70" x2="466.28" y2="80.70" stroke="#0b6b4b" stroke-width="1.1" />
<line x1="472.30" y1="61.80" x2="472.30" y2="84.20" stroke="#0b6b4b" stroke-width="0.9" />
<line x1="471.00" y1="61.80" x2="473.60" y2="61.80" stroke="#0b6b4b" stroke-width="1.1" />
<line x1="471.00" y1="84.20" x2="473.60" y2="84.20" stroke="#0b6b4b" stroke-width="1.1" />
<line x1="479.62" y1="57.18" x2="479.62" y2="66.98" stroke="#0b6b4b" stroke-width="0.9" />
<line x1="478.32" y1="57.18" x2="480.92" y2="57.18" stroke="#0b6b4b" stroke-width="1.1" />
<line x1="478.32" y1="66.98" x2="480.92" y2="66.98" stroke="#0b6b4b" stroke-width="1.1" />
<line x1="486.94" y1="52.42" x2="486.94" y2="69.22" stroke="#0b6b4b" stroke-width="0.9" />
<line x1="485.64" y1="52.42" x2="488.24" y2="52.42" stroke="#0b6b4b" stroke-width="1.1" />
<line x1="485.64" y1="69.22" x2="488.24" y2="69.22" stroke="#0b6b4b" stroke-width="1.1" />
<line x1="494.26" y1="55.50" x2="494.26" y2="66.70" stroke="#0b6b4b" stroke-width="0.9" />
<line x1="492.96" y1="55.50" x2="495.56" y2="55.50" stroke="#0b6b4b" stroke-width="1.1" />
<line x1="492.96" y1="66.70" x2="495.56" y2="66.70" stroke="#0b6b4b" stroke-width="1.1" />
<line x1="501.58" y1="50.46" x2="501.58" y2="65.86" stroke="#0b6b4b" stroke-width="0.9" />
<line x1="500.28" y1="50.46" x2="502.88" y2="50.46" stroke="#0b6b4b" stroke-width="1.1" />
<line x1="500.28" y1="65.86" x2="502.88" y2="65.86" stroke="#0b6b4b" stroke-width="1.1" />
<line x1="508.90" y1="54.66" x2="508.90" y2="75.66" stroke="#0b6b4b" stroke-width="0.9" />
<line x1="507.60" y1="54.66" x2="510.20" y2="54.66" stroke="#0b6b4b" stroke-width="1.1" />
<line x1="507.60" y1="75.66" x2="510.20" y2="75.66" stroke="#0b6b4b" stroke-width="1.1" />
<circle cx="435.70" cy="81.40" r="2.30" fill="#0b6b4b" stroke="#074530" stroke-width="0.5" />
<circle cx="443.02" cy="72.44" r="2.30" fill="#0b6b4b" stroke="#074530" stroke-width="0.5" />
<circle cx="450.34" cy="76.92" r="2.30" fill="#0b6b4b" stroke="#074530" stroke-width="0.5" />
<circle cx="457.66" cy="82.80" r="2.30" fill="#0b6b4b" stroke="#074530" stroke-width="0.5" />
<circle cx="464.98" cy="73.70" r="2.30" fill="#0b6b4b" stroke="#074530" stroke-width="0.5" />
<circle cx="472.30" cy="73.00" r="2.30" fill="#0b6b4b" stroke="#074530" stroke-width="0.5" />
<circle cx="479.62" cy="62.08" r="2.30" fill="#0b6b4b" stroke="#074530" stroke-width="0.5" />
<circle cx="486.94" cy="60.82" r="2.30" fill="#0b6b4b" stroke="#074530" stroke-width="0.5" />
<circle cx="494.26" cy="61.10" r="2.30" fill="#0b6b4b" stroke="#074530" stroke-width="0.5" />
<circle cx="501.58" cy="58.16" r="2.30" fill="#0b6b4b" stroke="#074530" stroke-width="0.5" />
<circle cx="508.90" cy="65.16" r="2.30" fill="#0b6b4b" stroke="#074530" stroke-width="0.5" />
<text x="8" y="195.4" font-size="13" text-anchor="start" fill="#000" font-weight="bold" font-style="normal" >C</text>
<text x="58.8" y="211.7" font-size="10.5" text-anchor="start" fill="#2b2b2b" font-weight="normal" font-style="normal" textLength="66.4" lengthAdjust="spacingAndGlyphs"  stroke="#2b2b2b" stroke-width="0.18">Spleen weight</text>
<text x="81.7" y="223.3" font-size="10.5" text-anchor="start" fill="#2b2b2b" font-weight="normal" font-style="normal" textLength="21.5" lengthAdjust="spacingAndGlyphs"  stroke="#2b2b2b" stroke-width="0.18">(mg)</text>
<rect x="44.00" y="256.34" width="97.00" height="38.46" fill="#dedede" />
<line x1="43.00" y1="234.20" x2="43.00" y2="354.00" stroke="#161616" stroke-width="1.55" />
<line x1="39.80" y1="236.20" x2="43.00" y2="236.20" stroke="#161616" stroke-width="1" />
<text x="36" y="239.1" font-size="8.2" text-anchor="end" fill="#2b2b2b" font-weight="normal" font-style="normal" textLength="14.700000000000001" lengthAdjust="spacingAndGlyphs"  stroke="#2b2b2b" stroke-width="0.18">160</text>
<line x1="39.80" y1="265.50" x2="43.00" y2="265.50" stroke="#161616" stroke-width="1" />
<text x="36" y="268.4" font-size="8.2" text-anchor="end" fill="#2b2b2b" font-weight="normal" font-style="normal" textLength="14.700000000000001" lengthAdjust="spacingAndGlyphs"  stroke="#2b2b2b" stroke-width="0.18">120</text>
<line x1="39.80" y1="294.80" x2="43.00" y2="294.80" stroke="#161616" stroke-width="1" />
<text x="36" y="297.69999999999993" font-size="8.2" text-anchor="end" fill="#2b2b2b" font-weight="normal" font-style="normal" textLength="9.8" lengthAdjust="spacingAndGlyphs"  stroke="#2b2b2b" stroke-width="0.18">80</text>
<line x1="39.80" y1="324.10" x2="43.00" y2="324.10" stroke="#161616" stroke-width="1" />
<text x="36" y="326.99999999999994" font-size="8.2" text-anchor="end" fill="#2b2b2b" font-weight="normal" font-style="normal" textLength="9.8" lengthAdjust="spacingAndGlyphs"  stroke="#2b2b2b" stroke-width="0.18">40</text>
<line x1="39.80" y1="353.40" x2="43.00" y2="353.40" stroke="#161616" stroke-width="1" />
<text x="36" y="356.29999999999995" font-size="8.2" text-anchor="end" fill="#2b2b2b" font-weight="normal" font-style="normal" textLength="4.9" lengthAdjust="spacingAndGlyphs"  stroke="#2b2b2b" stroke-width="0.18">0</text>
<line x1="42.40" y1="353.40" x2="141.00" y2="353.40" stroke="#161616" stroke-width="1.55" />
<line x1="58.12" y1="252.31" x2="58.12" y2="269.16" stroke="#c8102e" stroke-width="1.2" />
<line x1="53.92" y1="252.31" x2="62.33" y2="252.31" stroke="#c8102e" stroke-width="1.2" />
<rect x="50.50" y="269.16" width="15.25" height="84.24" fill="#c8102e" />
<line x1="58.12" y1="353.40" x2="58.12" y2="356.00" stroke="#161616" stroke-width="1" />
<line x1="80.50" y1="275.75" x2="80.50" y2="278.68" stroke="#f39200" stroke-width="1.2" />
<line x1="76.30" y1="275.75" x2="84.70" y2="275.75" stroke="#f39200" stroke-width="1.2" />
<rect x="73.00" y="278.68" width="15.00" height="74.72" fill="#f39200" />
<line x1="80.50" y1="353.40" x2="80.50" y2="356.00" stroke="#161616" stroke-width="1" />
<line x1="103.00" y1="309.30" x2="103.00" y2="312.60" stroke="#3cae3c" stroke-width="1.2" />
<line x1="98.80" y1="309.30" x2="107.20" y2="309.30" stroke="#3cae3c" stroke-width="1.2" />
<rect x="95.50" y="312.60" width="15.00" height="40.80" fill="#3cae3c" />
<line x1="103.00" y1="353.40" x2="103.00" y2="356.00" stroke="#161616" stroke-width="1" />
<line x1="125.50" y1="326.00" x2="125.50" y2="327.62" stroke="#0b6b4b" stroke-width="1.2" />
<line x1="121.30" y1="326.00" x2="129.70" y2="326.00" stroke="#0b6b4b" stroke-width="1.2" />
<rect x="118.00" y="327.62" width="15.00" height="25.78" fill="#0b6b4b" />
<line x1="125.50" y1="353.40" x2="125.50" y2="356.00" stroke="#161616" stroke-width="1" />
<circle cx="101.30" cy="303.80" r="1.30" fill="#3a3a3a" stroke="none" stroke-width="0" />
<circle cx="104.90" cy="303.80" r="1.30" fill="#3a3a3a" stroke="none" stroke-width="0" />
<circle cx="122.50" cy="321.70" r="1.30" fill="#3a3a3a" stroke="none" stroke-width="0" />
<circle cx="126.10" cy="321.70" r="1.30" fill="#3a3a3a" stroke="none" stroke-width="0" />
<circle cx="129.70" cy="321.70" r="1.30" fill="#3a3a3a" stroke="none" stroke-width="0" />
<text x="57.8" y="368" font-size="9" text-anchor="middle" fill="#c8102e" font-weight="normal" font-style="normal"  stroke="#c8102e" stroke-width="0.18">V</text>
<text x="80.4" y="368" font-size="9" text-anchor="middle" fill="#f39200" font-weight="normal" font-style="normal" textLength="13" lengthAdjust="spacingAndGlyphs"  stroke="#f39200" stroke-width="0.18">CB</text>
<text x="102.8" y="368" font-size="9" text-anchor="middle" fill="#3cae3c" font-weight="normal" font-style="normal" textLength="14.5" lengthAdjust="spacingAndGlyphs"  stroke="#3cae3c" stroke-width="0.18">Rux</text>
<text x="125.2" y="368" font-size="9" text-anchor="middle" fill="#0b6b4b" font-weight="normal" font-style="normal" textLength="11.5" lengthAdjust="spacingAndGlyphs"  stroke="#0b6b4b" stroke-width="0.18">CB</text>
<text x="126" y="377.5" font-size="9" text-anchor="middle" fill="#0b6b4b" font-weight="normal" font-style="normal" textLength="19.5" lengthAdjust="spacingAndGlyphs"  stroke="#0b6b4b" stroke-width="0.18">+Rux</text>
<text x="160" y="195.4" font-size="13" text-anchor="start" fill="#000" font-weight="bold" font-style="normal" >D</text>
<text x="194.6" y="211.2" font-size="10.5" text-anchor="start" fill="#2b2b2b" font-weight="normal" font-style="normal" textLength="66.2" lengthAdjust="spacingAndGlyphs"  stroke="#2b2b2b" stroke-width="0.18">Blood glucose</text>
<text x="216.7" y="223.3" font-size="10.5" text-anchor="start" fill="#2b2b2b" font-weight="normal" font-style="normal" textLength="22.3" lengthAdjust="spacingAndGlyphs"  stroke="#2b2b2b" stroke-width="0.18">(mM)</text>
<rect x="184.50" y="236.70" width="87.20" height="37.10" fill="#dedede" />
<line x1="183.60" y1="234.40" x2="183.60" y2="353.70" stroke="#161616" stroke-width="1.55" />
<line x1="180.40" y1="236.70" x2="183.60" y2="236.70" stroke="#161616" stroke-width="1" />
<text x="176.5" y="239.60000000000002" font-size="8.2" text-anchor="end" fill="#2b2b2b" font-weight="normal" font-style="normal" textLength="4.9" lengthAdjust="spacingAndGlyphs"  stroke="#2b2b2b" stroke-width="0.18">8</text>
<line x1="180.40" y1="265.80" x2="183.60" y2="265.80" stroke="#161616" stroke-width="1" />
<text x="176.5" y="268.7" font-size="8.2" text-anchor="end" fill="#2b2b2b" font-weight="normal" font-style="normal" textLength="4.9" lengthAdjust="spacingAndGlyphs"  stroke="#2b2b2b" stroke-width="0.18">6</text>
<line x1="180.40" y1="294.90" x2="183.60" y2="294.90" stroke="#161616" stroke-width="1" />
<text x="176.5" y="297.8" font-size="8.2" text-anchor="end" fill="#2b2b2b" font-weight="normal" font-style="normal" textLength="4.9" lengthAdjust="spacingAndGlyphs"  stroke="#2b2b2b" stroke-width="0.18">4</text>
<line x1="180.40" y1="324.00" x2="183.60" y2="324.00" stroke="#161616" stroke-width="1" />
<text x="176.5" y="326.9" font-size="8.2" text-anchor="end" fill="#2b2b2b" font-weight="normal" font-style="normal" textLength="4.9" lengthAdjust="spacingAndGlyphs"  stroke="#2b2b2b" stroke-width="0.18">2</text>
<line x1="180.40" y1="353.10" x2="183.60" y2="353.10" stroke="#161616" stroke-width="1" />
<text x="176.5" y="356.0" font-size="8.2" text-anchor="end" fill="#2b2b2b" font-weight="normal" font-style="normal" textLength="4.9" lengthAdjust="spacingAndGlyphs"  stroke="#2b2b2b" stroke-width="0.18">0</text>
<line x1="183.00" y1="353.10" x2="272.20" y2="353.10" stroke="#161616" stroke-width="1.55" />
<line x1="190.80" y1="353.10" x2="190.80" y2="355.70" stroke="#161616" stroke-width="1" />
<line x1="202.05" y1="353.10" x2="202.05" y2="355.70" stroke="#161616" stroke-width="1" />
<line x1="213.30" y1="353.10" x2="213.30" y2="355.70" stroke="#161616" stroke-width="1" />
<line x1="224.55" y1="353.10" x2="224.55" y2="355.70" stroke="#161616" stroke-width="1" />
<line x1="235.80" y1="353.10" x2="235.80" y2="355.70" stroke="#161616" stroke-width="1" />
<line x1="247.05" y1="353.10" x2="247.05" y2="355.70" stroke="#161616" stroke-width="1" />
<line x1="258.30" y1="353.10" x2="258.30" y2="355.70" stroke="#161616" stroke-width="1" />
<line x1="269.55" y1="353.10" x2="269.55" y2="355.70" stroke="#161616" stroke-width="1" />
<text x="190.8" y="368.2" font-size="8.2" text-anchor="middle" fill="#2b2b2b" font-weight="normal" font-style="normal" textLength="4.9" lengthAdjust="spacingAndGlyphs"  stroke="#2b2b2b" stroke-width="0.18">0</text>
<text x="213.3" y="368.2" font-size="8.2" text-anchor="middle" fill="#2b2b2b" font-weight="normal" font-style="normal" textLength="4.9" lengthAdjust="spacingAndGlyphs"  stroke="#2b2b2b" stroke-width="0.18">3</text>
<text x="235.8" y="368.2" font-size="8.2" text-anchor="middle" fill="#2b2b2b" font-weight="normal" font-style="normal" textLength="4.9" lengthAdjust="spacingAndGlyphs"  stroke="#2b2b2b" stroke-width="0.18">6</text>
<text x="258.3" y="368.2" font-size="8.2" text-anchor="middle" fill="#2b2b2b" font-weight="normal" font-style="normal" textLength="4.9" lengthAdjust="spacingAndGlyphs"  stroke="#2b2b2b" stroke-width="0.18">9</text>
<text x="195" y="383.6" font-size="9.9" text-anchor="start" fill="#2b2b2b" font-weight="normal" font-style="normal" textLength="65.5" lengthAdjust="spacingAndGlyphs" stroke="#2b2b2b" stroke-width="0.25">Weeks of treatment</text>
<path d="M190.80,275.84 L205.80,301.16 L220.80,285.44 L235.80,292.57 L250.80,289.66 L265.80,278.90" fill="none" stroke="#f39200" stroke-width="1.2" />
<line x1="190.80" y1="270.75" x2="190.80" y2="280.93" stroke="#f39200" stroke-width="0.9" />
<line x1="188.20" y1="270.75" x2="193.40" y2="270.75" stroke="#f39200" stroke-width="1.1" />
<line x1="188.20" y1="280.93" x2="193.40" y2="280.93" stroke="#f39200" stroke-width="1.1" />
<line x1="205.80" y1="297.52" x2="205.80" y2="304.79" stroke="#f39200" stroke-width="0.9" />
<line x1="203.20" y1="297.52" x2="208.40" y2="297.52" stroke="#f39200" stroke-width="1.1" />
<line x1="203.20" y1="304.79" x2="208.40" y2="304.79" stroke="#f39200" stroke-width="1.1" />
<line x1="220.80" y1="277.44" x2="220.80" y2="293.44" stroke="#f39200" stroke-width="0.9" />
<line x1="218.20" y1="277.44" x2="223.40" y2="277.44" stroke="#f39200" stroke-width="1.1" />
<line x1="218.20" y1="293.44" x2="223.40" y2="293.44" stroke="#f39200" stroke-width="1.1" />
<line x1="235.80" y1="287.48" x2="235.80" y2="297.66" stroke="#f39200" stroke-width="0.9" />
<line x1="233.20" y1="287.48" x2="238.40" y2="287.48" stroke="#f39200" stroke-width="1.1" />
<line x1="233.20" y1="297.66" x2="238.40" y2="297.66" stroke="#f39200" stroke-width="1.1" />
<line x1="250.80" y1="282.39" x2="250.80" y2="296.94" stroke="#f39200" stroke-width="0.9" />
<line x1="248.20" y1="282.39" x2="253.40" y2="282.39" stroke="#f39200" stroke-width="1.1" />
<line x1="248.20" y1="296.94" x2="253.40" y2="296.94" stroke="#f39200" stroke-width="1.1" />
<line x1="265.80" y1="270.17" x2="265.80" y2="287.62" stroke="#f39200" stroke-width="0.9" />
<line x1="263.20" y1="270.17" x2="268.40" y2="270.17" stroke="#f39200" stroke-width="1.1" />
<line x1="263.20" y1="287.62" x2="268.40" y2="287.62" stroke="#f39200" stroke-width="1.1" />
<circle cx="190.80" cy="275.84" r="3.00" fill="#f39200" stroke="#9d5e00" stroke-width="0.5" />
<circle cx="205.80" cy="301.16" r="3.00" fill="#f39200" stroke="#9d5e00" stroke-width="0.5" />
<circle cx="220.80" cy="285.44" r="3.00" fill="#f39200" stroke="#9d5e00" stroke-width="0.5" />
<circle cx="235.80" cy="292.57" r="3.00" fill="#f39200" stroke="#9d5e00" stroke-width="0.5" />
<circle cx="250.80" cy="289.66" r="3.00" fill="#f39200" stroke="#9d5e00" stroke-width="0.5" />
<circle cx="265.80" cy="278.90" r="3.00" fill="#f39200" stroke="#9d5e00" stroke-width="0.5" />
<path d="M190.80,277.44 L205.80,285.01 L220.80,276.86 L235.80,275.84 L250.80,275.84 L265.80,269.44" fill="none" stroke="#3cae3c" stroke-width="1.2" />
<line x1="190.80" y1="274.53" x2="190.80" y2="280.35" stroke="#3cae3c" stroke-width="0.9" />
<line x1="188.20" y1="274.53" x2="193.40" y2="274.53" stroke="#3cae3c" stroke-width="1.1" />
<line x1="188.20" y1="280.35" x2="193.40" y2="280.35" stroke="#3cae3c" stroke-width="1.1" />
<line x1="205.80" y1="279.91" x2="205.80" y2="290.10" stroke="#3cae3c" stroke-width="0.9" />
<line x1="203.20" y1="279.91" x2="208.40" y2="279.91" stroke="#3cae3c" stroke-width="1.1" />
<line x1="203.20" y1="290.10" x2="208.40" y2="290.10" stroke="#3cae3c" stroke-width="1.1" />
<line x1="220.80" y1="271.77" x2="220.80" y2="281.95" stroke="#3cae3c" stroke-width="0.9" />
<line x1="218.20" y1="271.77" x2="223.40" y2="271.77" stroke="#3cae3c" stroke-width="1.1" />
<line x1="218.20" y1="281.95" x2="223.40" y2="281.95" stroke="#3cae3c" stroke-width="1.1" />
<line x1="235.80" y1="272.93" x2="235.80" y2="278.75" stroke="#3cae3c" stroke-width="0.9" />
<line x1="233.20" y1="272.93" x2="238.40" y2="272.93" stroke="#3cae3c" stroke-width="1.1" />
<line x1="233.20" y1="278.75" x2="238.40" y2="278.75" stroke="#3cae3c" stroke-width="1.1" />
<line x1="250.80" y1="272.20" x2="250.80" y2="279.48" stroke="#3cae3c" stroke-width="0.9" />
<line x1="248.20" y1="272.20" x2="253.40" y2="272.20" stroke="#3cae3c" stroke-width="1.1" />
<line x1="248.20" y1="279.48" x2="253.40" y2="279.48" stroke="#3cae3c" stroke-width="1.1" />
<line x1="265.80" y1="265.07" x2="265.80" y2="273.80" stroke="#3cae3c" stroke-width="0.9" />
<line x1="263.20" y1="265.07" x2="268.40" y2="265.07" stroke="#3cae3c" stroke-width="1.1" />
<line x1="263.20" y1="273.80" x2="268.40" y2="273.80" stroke="#3cae3c" stroke-width="1.1" />
<circle cx="190.80" cy="277.44" r="3.00" fill="#3cae3c" stroke="#277127" stroke-width="0.5" />
<circle cx="205.80" cy="285.01" r="3.00" fill="#3cae3c" stroke="#277127" stroke-width="0.5" />
<circle cx="220.80" cy="276.86" r="3.00" fill="#3cae3c" stroke="#277127" stroke-width="0.5" />
<circle cx="235.80" cy="275.84" r="3.00" fill="#3cae3c" stroke="#277127" stroke-width="0.5" />
<circle cx="250.80" cy="275.84" r="3.00" fill="#3cae3c" stroke="#277127" stroke-width="0.5" />
<circle cx="265.80" cy="269.44" r="3.00" fill="#3cae3c" stroke="#277127" stroke-width="0.5" />
<path d="M190.80,283.26 L205.80,314.98 L220.80,302.76 L235.80,297.66 L250.80,302.32 L265.80,297.66" fill="none" stroke="#c8102e" stroke-width="1.2" />
<line x1="190.80" y1="281.08" x2="190.80" y2="285.44" stroke="#c8102e" stroke-width="0.9" />
<line x1="188.20" y1="281.08" x2="193.40" y2="281.08" stroke="#c8102e" stroke-width="1.1" />
<line x1="188.20" y1="285.44" x2="193.40" y2="285.44" stroke="#c8102e" stroke-width="1.1" />
<line x1="205.80" y1="311.34" x2="205.80" y2="318.62" stroke="#c8102e" stroke-width="0.9" />
<line x1="203.20" y1="311.34" x2="208.40" y2="311.34" stroke="#c8102e" stroke-width="1.1" />
<line x1="203.20" y1="318.62" x2="208.40" y2="318.62" stroke="#c8102e" stroke-width="1.1" />
<line x1="220.80" y1="297.66" x2="220.80" y2="307.85" stroke="#c8102e" stroke-width="0.9" />
<line x1="218.20" y1="297.66" x2="223.40" y2="297.66" stroke="#c8102e" stroke-width="1.1" />
<line x1="218.20" y1="307.85" x2="223.40" y2="307.85" stroke="#c8102e" stroke-width="1.1" />
<line x1="235.80" y1="291.84" x2="235.80" y2="303.48" stroke="#c8102e" stroke-width="0.9" />
<line x1="233.20" y1="291.84" x2="238.40" y2="291.84" stroke="#c8102e" stroke-width="1.1" />
<line x1="233.20" y1="303.48" x2="238.40" y2="303.48" stroke="#c8102e" stroke-width="1.1" />
<line x1="250.80" y1="297.23" x2="250.80" y2="307.41" stroke="#c8102e" stroke-width="0.9" />
<line x1="248.20" y1="297.23" x2="253.40" y2="297.23" stroke="#c8102e" stroke-width="1.1" />
<line x1="248.20" y1="307.41" x2="253.40" y2="307.41" stroke="#c8102e" stroke-width="1.1" />
<line x1="265.80" y1="291.12" x2="265.80" y2="304.21" stroke="#c8102e" stroke-width="0.9" />
<line x1="263.20" y1="291.12" x2="268.40" y2="291.12" stroke="#c8102e" stroke-width="1.1" />
<line x1="263.20" y1="304.21" x2="268.40" y2="304.21" stroke="#c8102e" stroke-width="1.1" />
<circle cx="190.80" cy="283.26" r="3.00" fill="#c8102e" stroke="#820a1d" stroke-width="0.5" />
<circle cx="205.80" cy="314.98" r="3.00" fill="#c8102e" stroke="#820a1d" stroke-width="0.5" />
<circle cx="220.80" cy="302.76" r="3.00" fill="#c8102e" stroke="#820a1d" stroke-width="0.5" />
<circle cx="235.80" cy="297.66" r="3.00" fill="#c8102e" stroke="#820a1d" stroke-width="0.5" />
<circle cx="250.80" cy="302.32" r="3.00" fill="#c8102e" stroke="#820a1d" stroke-width="0.5" />
<circle cx="265.80" cy="297.66" r="3.00" fill="#c8102e" stroke="#820a1d" stroke-width="0.5" />
<path d="M190.80,290.24 L205.80,273.08 L220.80,265.80 L235.80,268.27 L250.80,252.27 L265.80,257.36" fill="none" stroke="#0b6b4b" stroke-width="1.2" />
<line x1="190.80" y1="285.15" x2="190.80" y2="295.34" stroke="#0b6b4b" stroke-width="0.9" />
<line x1="188.20" y1="285.15" x2="193.40" y2="285.15" stroke="#0b6b4b" stroke-width="1.1" />
<line x1="188.20" y1="295.34" x2="193.40" y2="295.34" stroke="#0b6b4b" stroke-width="1.1" />
<line x1="205.80" y1="267.98" x2="205.80" y2="278.17" stroke="#0b6b4b" stroke-width="0.9" />
<line x1="203.20" y1="267.98" x2="208.40" y2="267.98" stroke="#0b6b4b" stroke-width="1.1" />
<line x1="203.20" y1="278.17" x2="208.40" y2="278.17" stroke="#0b6b4b" stroke-width="1.1" />
<line x1="220.80" y1="259.25" x2="220.80" y2="272.35" stroke="#0b6b4b" stroke-width="0.9" />
<line x1="218.20" y1="259.25" x2="223.40" y2="259.25" stroke="#0b6b4b" stroke-width="1.1" />
<line x1="218.20" y1="272.35" x2="223.40" y2="272.35" stroke="#0b6b4b" stroke-width="1.1" />
<line x1="235.80" y1="261.73" x2="235.80" y2="274.82" stroke="#0b6b4b" stroke-width="0.9" />
<line x1="233.20" y1="261.73" x2="238.40" y2="261.73" stroke="#0b6b4b" stroke-width="1.1" />
<line x1="233.20" y1="274.82" x2="238.40" y2="274.82" stroke="#0b6b4b" stroke-width="1.1" />
<line x1="250.80" y1="244.99" x2="250.80" y2="259.54" stroke="#0b6b4b" stroke-width="0.9" />
<line x1="248.20" y1="244.99" x2="253.40" y2="244.99" stroke="#0b6b4b" stroke-width="1.1" />
<line x1="248.20" y1="259.54" x2="253.40" y2="259.54" stroke="#0b6b4b" stroke-width="1.1" />
<line x1="265.80" y1="250.09" x2="265.80" y2="264.64" stroke="#0b6b4b" stroke-width="0.9" />
<line x1="263.20" y1="250.09" x2="268.40" y2="250.09" stroke="#0b6b4b" stroke-width="1.1" />
<line x1="263.20" y1="264.64" x2="268.40" y2="264.64" stroke="#0b6b4b" stroke-width="1.1" />
<circle cx="190.80" cy="290.24" r="3.00" fill="#0b6b4b" stroke="#074530" stroke-width="0.5" />
<circle cx="205.80" cy="273.08" r="3.00" fill="#0b6b4b" stroke="#074530" stroke-width="0.5" />
<circle cx="220.80" cy="265.80" r="3.00" fill="#0b6b4b" stroke="#074530" stroke-width="0.5" />
<circle cx="235.80" cy="268.27" r="3.00" fill="#0b6b4b" stroke="#074530" stroke-width="0.5" />
<circle cx="250.80" cy="252.27" r="3.00" fill="#0b6b4b" stroke="#074530" stroke-width="0.5" />
<circle cx="265.80" cy="257.36" r="3.00" fill="#0b6b4b" stroke="#074530" stroke-width="0.5" />
<circle cx="273.25" cy="257.80" r="1.30" fill="#2f5a4c" stroke="none" stroke-width="0" />
<circle cx="276.85" cy="257.80" r="1.30" fill="#2f5a4c" stroke="none" stroke-width="0" />
<circle cx="280.45" cy="257.80" r="1.30" fill="#2f5a4c" stroke="none" stroke-width="0" />
<circle cx="274.90" cy="267.90" r="1.30" fill="#5a8a60" stroke="none" stroke-width="0" />
<circle cx="278.50" cy="267.90" r="1.30" fill="#5a8a60" stroke="none" stroke-width="0" />
<circle cx="276.40" cy="278.00" r="1.30" fill="#b09a70" stroke="none" stroke-width="0" />
<text x="300" y="195.6" font-size="13" text-anchor="start" fill="#000" font-weight="bold" font-style="normal" >E</text>
<text x="330" y="211.2" font-size="10.5" text-anchor="start" fill="#2b2b2b" font-weight="normal" font-style="normal" textLength="84.2" lengthAdjust="spacingAndGlyphs"  stroke="#2b2b2b" stroke-width="0.18">Glucose tolerance</text>
<text x="349.6" y="224.3" font-size="10.5" text-anchor="start" fill="#2b2b2b" font-weight="normal" font-style="normal" textLength="43.9" lengthAdjust="spacingAndGlyphs"  stroke="#2b2b2b" stroke-width="0.18">test (mM)</text>
<line x1="328.60" y1="233.50" x2="328.60" y2="353.80" stroke="#161616" stroke-width="1.55" />
<line x1="325.40" y1="235.60" x2="328.60" y2="235.60" stroke="#161616" stroke-width="1" />
<text x="322" y="238.5" font-size="8.2" text-anchor="end" fill="#2b2b2b" font-weight="normal" font-style="normal" textLength="9.8" lengthAdjust="spacingAndGlyphs"  stroke="#2b2b2b" stroke-width="0.18">20</text>
<line x1="325.40" y1="265.00" x2="328.60" y2="265.00" stroke="#161616" stroke-width="1" />
<text x="322" y="267.9" font-size="8.2" text-anchor="end" fill="#2b2b2b" font-weight="normal" font-style="normal" textLength="9.8" lengthAdjust="spacingAndGlyphs"  stroke="#2b2b2b" stroke-width="0.18">15</text>
<line x1="325.40" y1="294.40" x2="328.60" y2="294.40" stroke="#161616" stroke-width="1" />
<text x="322" y="297.29999999999995" font-size="8.2" text-anchor="end" fill="#2b2b2b" font-weight="normal" font-style="normal" textLength="9.8" lengthAdjust="spacingAndGlyphs"  stroke="#2b2b2b" stroke-width="0.18">10</text>
<line x1="325.40" y1="323.80" x2="328.60" y2="323.80" stroke="#161616" stroke-width="1" />
<text x="322" y="326.7" font-size="8.2" text-anchor="end" fill="#2b2b2b" font-weight="normal" font-style="normal" textLength="4.9" lengthAdjust="spacingAndGlyphs"  stroke="#2b2b2b" stroke-width="0.18">5</text>
<line x1="325.40" y1="353.20" x2="328.60" y2="353.20" stroke="#161616" stroke-width="1" />
<text x="322" y="356.09999999999997" font-size="8.2" text-anchor="end" fill="#2b2b2b" font-weight="normal" font-style="normal" textLength="4.9" lengthAdjust="spacingAndGlyphs"  stroke="#2b2b2b" stroke-width="0.18">0</text>
<line x1="328.00" y1="353.20" x2="415.40" y2="353.20" stroke="#161616" stroke-width="1.55" />
<line x1="338.80" y1="353.20" x2="338.80" y2="355.80" stroke="#161616" stroke-width="1" />
<line x1="351.20" y1="353.20" x2="351.20" y2="355.80" stroke="#161616" stroke-width="1" />
<line x1="363.61" y1="353.20" x2="363.61" y2="355.80" stroke="#161616" stroke-width="1" />
<line x1="388.42" y1="353.20" x2="388.42" y2="355.80" stroke="#161616" stroke-width="1" />
<line x1="413.23" y1="353.20" x2="413.23" y2="355.80" stroke="#161616" stroke-width="1" />
<line x1="376.01" y1="353.20" x2="376.01" y2="355.00" stroke="#161616" stroke-width="1" />
<line x1="400.82" y1="353.20" x2="400.82" y2="355.00" stroke="#161616" stroke-width="1" />
<text x="338.8" y="367.7" font-size="8.2" text-anchor="middle" fill="#2b2b2b" font-weight="normal" font-style="normal" textLength="4.9" lengthAdjust="spacingAndGlyphs"  stroke="#2b2b2b" stroke-width="0.18">0</text>
<text x="350.705" y="367.7" font-size="8.2" text-anchor="middle" fill="#2b2b2b" font-weight="normal" font-style="normal" textLength="9.8" lengthAdjust="spacingAndGlyphs"  stroke="#2b2b2b" stroke-width="0.18">15</text>
<text x="364.41" y="367.7" font-size="8.2" text-anchor="middle" fill="#2b2b2b" font-weight="normal" font-style="normal" textLength="9.8" lengthAdjust="spacingAndGlyphs"  stroke="#2b2b2b" stroke-width="0.18">30</text>
<text x="388.42" y="367.7" font-size="8.2" text-anchor="middle" fill="#2b2b2b" font-weight="normal" font-style="normal" textLength="9.8" lengthAdjust="spacingAndGlyphs"  stroke="#2b2b2b" stroke-width="0.18">60</text>
<text x="413.23" y="367.7" font-size="8.2" text-anchor="middle" fill="#2b2b2b" font-weight="normal" font-style="normal" textLength="9.8" lengthAdjust="spacingAndGlyphs"  stroke="#2b2b2b" stroke-width="0.18">90</text>
<text x="353.5" y="383.8" font-size="9.9" text-anchor="start" fill="#2b2b2b" font-weight="normal" font-style="normal" textLength="36.5" lengthAdjust="spacingAndGlyphs" stroke="#2b2b2b" stroke-width="0.25">Time (min)</text>
<text x="331" y="238.2" font-size="9" text-anchor="start" fill="#2b2b2b" font-weight="normal" font-style="normal" textLength="31.8" lengthAdjust="spacingAndGlyphs"  stroke="#2b2b2b" stroke-width="0.18">Glucose</text>
<line x1="338.80" y1="242.30" x2="338.80" y2="270.50" stroke="#111" stroke-width="1.1" />
<path d="M338.8,275 L336.3,268.5 L341.3,268.5 Z" fill="#111" stroke="none" stroke-width="1" />
<path d="M338.80,333.03 L351.20,314.22 L363.61,327.33 L388.42,329.68 L413.23,333.03" fill="none" stroke="#c8102e" stroke-width="1.2" />
<line x1="338.80" y1="331.27" x2="338.80" y2="334.80" stroke="#c8102e" stroke-width="0.9" />
<line x1="336.40" y1="331.27" x2="341.20" y2="331.27" stroke="#c8102e" stroke-width="1.1" />
<line x1="336.40" y1="334.80" x2="341.20" y2="334.80" stroke="#c8102e" stroke-width="1.1" />
<line x1="351.20" y1="308.34" x2="351.20" y2="320.10" stroke="#c8102e" stroke-width="0.9" />
<line x1="348.81" y1="308.34" x2="353.60" y2="308.34" stroke="#c8102e" stroke-width="1.1" />
<line x1="348.81" y1="320.10" x2="353.60" y2="320.10" stroke="#c8102e" stroke-width="1.1" />
<line x1="363.61" y1="324.98" x2="363.61" y2="329.68" stroke="#c8102e" stroke-width="0.9" />
<line x1="361.21" y1="324.98" x2="366.01" y2="324.98" stroke="#c8102e" stroke-width="1.1" />
<line x1="361.21" y1="329.68" x2="366.01" y2="329.68" stroke="#c8102e" stroke-width="1.1" />
<line x1="388.42" y1="326.15" x2="388.42" y2="333.21" stroke="#c8102e" stroke-width="0.9" />
<line x1="386.02" y1="326.15" x2="390.82" y2="326.15" stroke="#c8102e" stroke-width="1.1" />
<line x1="386.02" y1="333.21" x2="390.82" y2="333.21" stroke="#c8102e" stroke-width="1.1" />
<line x1="413.23" y1="330.68" x2="413.23" y2="335.38" stroke="#c8102e" stroke-width="0.9" />
<line x1="410.83" y1="330.68" x2="415.63" y2="330.68" stroke="#c8102e" stroke-width="1.1" />
<line x1="410.83" y1="335.38" x2="415.63" y2="335.38" stroke="#c8102e" stroke-width="1.1" />
<circle cx="338.80" cy="333.03" r="2.40" fill="#c8102e" stroke="#820a1d" stroke-width="0.5" />
<circle cx="351.20" cy="314.22" r="2.40" fill="#c8102e" stroke="#820a1d" stroke-width="0.5" />
<circle cx="363.61" cy="327.33" r="2.40" fill="#c8102e" stroke="#820a1d" stroke-width="0.5" />
<circle cx="388.42" cy="329.68" r="2.40" fill="#c8102e" stroke="#820a1d" stroke-width="0.5" />
<circle cx="413.23" cy="333.03" r="2.40" fill="#c8102e" stroke="#820a1d" stroke-width="0.5" />
<path d="M338.80,324.98 L351.20,290.40 L363.61,316.51 L388.42,326.15 L413.23,329.68" fill="none" stroke="#f39200" stroke-width="1.2" />
<line x1="338.80" y1="322.62" x2="338.80" y2="327.33" stroke="#f39200" stroke-width="0.9" />
<line x1="336.40" y1="322.62" x2="341.20" y2="322.62" stroke="#f39200" stroke-width="1.1" />
<line x1="336.40" y1="327.33" x2="341.20" y2="327.33" stroke="#f39200" stroke-width="1.1" />
<line x1="351.20" y1="280.99" x2="351.20" y2="299.81" stroke="#f39200" stroke-width="0.9" />
<line x1="348.81" y1="280.99" x2="353.60" y2="280.99" stroke="#f39200" stroke-width="1.1" />
<line x1="348.81" y1="299.81" x2="353.60" y2="299.81" stroke="#f39200" stroke-width="1.1" />
<line x1="363.61" y1="312.39" x2="363.61" y2="320.62" stroke="#f39200" stroke-width="0.9" />
<line x1="361.21" y1="312.39" x2="366.01" y2="312.39" stroke="#f39200" stroke-width="1.1" />
<line x1="361.21" y1="320.62" x2="366.01" y2="320.62" stroke="#f39200" stroke-width="1.1" />
<line x1="388.42" y1="323.80" x2="388.42" y2="328.50" stroke="#f39200" stroke-width="0.9" />
<line x1="386.02" y1="323.80" x2="390.82" y2="323.80" stroke="#f39200" stroke-width="1.1" />
<line x1="386.02" y1="328.50" x2="390.82" y2="328.50" stroke="#f39200" stroke-width="1.1" />
<line x1="413.23" y1="327.92" x2="413.23" y2="331.44" stroke="#f39200" stroke-width="0.9" />
<line x1="410.83" y1="327.92" x2="415.63" y2="327.92" stroke="#f39200" stroke-width="1.1" />
<line x1="410.83" y1="331.44" x2="415.63" y2="331.44" stroke="#f39200" stroke-width="1.1" />
<circle cx="338.80" cy="324.98" r="2.40" fill="#f39200" stroke="#9d5e00" stroke-width="0.5" />
<circle cx="351.20" cy="290.40" r="2.40" fill="#f39200" stroke="#9d5e00" stroke-width="0.5" />
<circle cx="363.61" cy="316.51" r="2.40" fill="#f39200" stroke="#9d5e00" stroke-width="0.5" />
<circle cx="388.42" cy="326.15" r="2.40" fill="#f39200" stroke="#9d5e00" stroke-width="0.5" />
<circle cx="413.23" cy="329.68" r="2.40" fill="#f39200" stroke="#9d5e00" stroke-width="0.5" />
<path d="M338.80,328.03 L351.20,304.22 L363.61,308.22 L388.42,312.80 L413.23,321.51" fill="none" stroke="#3cae3c" stroke-width="1.2" />
<line x1="338.80" y1="326.27" x2="338.80" y2="329.80" stroke="#3cae3c" stroke-width="0.9" />
<line x1="336.40" y1="326.27" x2="341.20" y2="326.27" stroke="#3cae3c" stroke-width="1.1" />
<line x1="336.40" y1="329.80" x2="341.20" y2="329.80" stroke="#3cae3c" stroke-width="1.1" />
<line x1="351.20" y1="300.10" x2="351.20" y2="308.34" stroke="#3cae3c" stroke-width="0.9" />
<line x1="348.81" y1="300.10" x2="353.60" y2="300.10" stroke="#3cae3c" stroke-width="1.1" />
<line x1="348.81" y1="308.34" x2="353.60" y2="308.34" stroke="#3cae3c" stroke-width="1.1" />
<line x1="363.61" y1="302.34" x2="363.61" y2="314.10" stroke="#3cae3c" stroke-width="0.9" />
<line x1="361.21" y1="302.34" x2="366.01" y2="302.34" stroke="#3cae3c" stroke-width="1.1" />
<line x1="361.21" y1="314.10" x2="366.01" y2="314.10" stroke="#3cae3c" stroke-width="1.1" />
<line x1="388.42" y1="303.98" x2="388.42" y2="321.62" stroke="#3cae3c" stroke-width="0.9" />
<line x1="386.02" y1="303.98" x2="390.82" y2="303.98" stroke="#3cae3c" stroke-width="1.1" />
<line x1="386.02" y1="321.62" x2="390.82" y2="321.62" stroke="#3cae3c" stroke-width="1.1" />
<line x1="413.23" y1="317.98" x2="413.23" y2="325.03" stroke="#3cae3c" stroke-width="0.9" />
<line x1="410.83" y1="317.98" x2="415.63" y2="317.98" stroke="#3cae3c" stroke-width="1.1" />
<line x1="410.83" y1="325.03" x2="415.63" y2="325.03" stroke="#3cae3c" stroke-width="1.1" />
<circle cx="338.80" cy="328.03" r="2.40" fill="#3cae3c" stroke="#277127" stroke-width="0.5" />
<circle cx="351.20" cy="304.22" r="2.40" fill="#3cae3c" stroke="#277127" stroke-width="0.5" />
<circle cx="363.61" cy="308.22" r="2.40" fill="#3cae3c" stroke="#277127" stroke-width="0.5" />
<circle cx="388.42" cy="312.80" r="2.40" fill="#3cae3c" stroke="#277127" stroke-width="0.5" />
<circle cx="413.23" cy="321.51" r="2.40" fill="#3cae3c" stroke="#277127" stroke-width="0.5" />
<path d="M338.80,310.51 L351.20,267.94 L363.61,284.99 L388.42,298.52 L413.23,317.04" fill="none" stroke="#9a90c8" stroke-width="1.2" />
<line x1="338.80" y1="308.16" x2="338.80" y2="312.86" stroke="#9a90c8" stroke-width="0.9" />
<line x1="336.40" y1="308.16" x2="341.20" y2="308.16" stroke="#9a90c8" stroke-width="1.1" />
<line x1="336.40" y1="312.86" x2="341.20" y2="312.86" stroke="#9a90c8" stroke-width="1.1" />
<line x1="351.20" y1="264.41" x2="351.20" y2="271.47" stroke="#9a90c8" stroke-width="0.9" />
<line x1="348.81" y1="264.41" x2="353.60" y2="264.41" stroke="#9a90c8" stroke-width="1.1" />
<line x1="348.81" y1="271.47" x2="353.60" y2="271.47" stroke="#9a90c8" stroke-width="1.1" />
<line x1="363.61" y1="280.29" x2="363.61" y2="289.70" stroke="#9a90c8" stroke-width="0.9" />
<line x1="361.21" y1="280.29" x2="366.01" y2="280.29" stroke="#9a90c8" stroke-width="1.1" />
<line x1="361.21" y1="289.70" x2="366.01" y2="289.70" stroke="#9a90c8" stroke-width="1.1" />
<line x1="388.42" y1="292.64" x2="388.42" y2="304.40" stroke="#9a90c8" stroke-width="0.9" />
<line x1="386.02" y1="292.64" x2="390.82" y2="292.64" stroke="#9a90c8" stroke-width="1.1" />
<line x1="386.02" y1="304.40" x2="390.82" y2="304.40" stroke="#9a90c8" stroke-width="1.1" />
<line x1="413.23" y1="314.69" x2="413.23" y2="319.39" stroke="#9a90c8" stroke-width="0.9" />
<line x1="410.83" y1="314.69" x2="415.63" y2="314.69" stroke="#9a90c8" stroke-width="1.1" />
<line x1="410.83" y1="319.39" x2="415.63" y2="319.39" stroke="#9a90c8" stroke-width="1.1" />
<circle cx="338.80" cy="310.51" r="2.40" fill="#9a90c8" stroke="#645d82" stroke-width="0.5" />
<circle cx="351.20" cy="267.94" r="2.40" fill="#9a90c8" stroke="#645d82" stroke-width="0.5" />
<circle cx="363.61" cy="284.99" r="2.40" fill="#9a90c8" stroke="#645d82" stroke-width="0.5" />
<circle cx="388.42" cy="298.52" r="2.40" fill="#9a90c8" stroke="#645d82" stroke-width="0.5" />
<circle cx="413.23" cy="317.04" r="2.40" fill="#9a90c8" stroke="#645d82" stroke-width="0.5" />
<path d="M338.80,316.51 L351.20,264.41 L363.61,273.23 L388.42,297.34 L413.23,317.92" fill="none" stroke="#0b6b4b" stroke-width="1.2" />
<line x1="338.80" y1="315.33" x2="338.80" y2="317.68" stroke="#0b6b4b" stroke-width="0.9" />
<line x1="336.40" y1="315.33" x2="341.20" y2="315.33" stroke="#0b6b4b" stroke-width="1.1" />
<line x1="336.40" y1="317.68" x2="341.20" y2="317.68" stroke="#0b6b4b" stroke-width="1.1" />
<line x1="351.20" y1="260.88" x2="351.20" y2="267.94" stroke="#0b6b4b" stroke-width="0.9" />
<line x1="348.81" y1="260.88" x2="353.60" y2="260.88" stroke="#0b6b4b" stroke-width="1.1" />
<line x1="348.81" y1="267.94" x2="353.60" y2="267.94" stroke="#0b6b4b" stroke-width="1.1" />
<line x1="363.61" y1="267.35" x2="363.61" y2="279.11" stroke="#0b6b4b" stroke-width="0.9" />
<line x1="361.21" y1="267.35" x2="366.01" y2="267.35" stroke="#0b6b4b" stroke-width="1.1" />
<line x1="361.21" y1="279.11" x2="366.01" y2="279.11" stroke="#0b6b4b" stroke-width="1.1" />
<line x1="388.42" y1="290.28" x2="388.42" y2="304.40" stroke="#0b6b4b" stroke-width="0.9" />
<line x1="386.02" y1="290.28" x2="390.82" y2="290.28" stroke="#0b6b4b" stroke-width="1.1" />
<line x1="386.02" y1="304.40" x2="390.82" y2="304.40" stroke="#0b6b4b" stroke-width="1.1" />
<line x1="413.23" y1="315.57" x2="413.23" y2="320.27" stroke="#0b6b4b" stroke-width="0.9" />
<line x1="410.83" y1="315.57" x2="415.63" y2="315.57" stroke="#0b6b4b" stroke-width="1.1" />
<line x1="410.83" y1="320.27" x2="415.63" y2="320.27" stroke="#0b6b4b" stroke-width="1.1" />
<circle cx="338.80" cy="316.51" r="2.40" fill="#0b6b4b" stroke="#074530" stroke-width="0.5" />
<circle cx="351.20" cy="264.41" r="2.40" fill="#0b6b4b" stroke="#074530" stroke-width="0.5" />
<circle cx="363.61" cy="273.23" r="2.40" fill="#0b6b4b" stroke="#074530" stroke-width="0.5" />
<circle cx="388.42" cy="297.34" r="2.40" fill="#0b6b4b" stroke="#074530" stroke-width="0.5" />
<circle cx="413.23" cy="317.92" r="2.40" fill="#0b6b4b" stroke="#074530" stroke-width="0.5" />
<circle cx="345.80" cy="245.20" r="1.30" fill="#2f6a55" stroke="none" stroke-width="0" />
<circle cx="349.63" cy="245.20" r="1.30" fill="#2f6a55" stroke="none" stroke-width="0" />
<circle cx="353.46" cy="245.20" r="1.30" fill="#2f6a55" stroke="none" stroke-width="0" />
<circle cx="357.29" cy="245.20" r="1.30" fill="#2f6a55" stroke="none" stroke-width="0" />
<circle cx="348.60" cy="251.30" r="1.30" fill="#e8a080" stroke="none" stroke-width="0" />
<circle cx="352.90" cy="251.30" r="1.30" fill="#e8a080" stroke="none" stroke-width="0" />
<circle cx="358.50" cy="257.90" r="1.30" fill="#2f6a55" stroke="none" stroke-width="0" />
<circle cx="362.33" cy="257.90" r="1.30" fill="#2f6a55" stroke="none" stroke-width="0" />
<circle cx="366.16" cy="257.90" r="1.30" fill="#2f6a55" stroke="none" stroke-width="0" />
<circle cx="369.99" cy="257.90" r="1.30" fill="#2f6a55" stroke="none" stroke-width="0" />
<circle cx="363.60" cy="263.10" r="1.30" fill="#70a070" stroke="none" stroke-width="0" />
<circle cx="384.20" cy="286.70" r="1.30" fill="#2f6a55" stroke="none" stroke-width="0" />
<circle cx="387.75" cy="286.70" r="1.30" fill="#2f6a55" stroke="none" stroke-width="0" />
<circle cx="391.30" cy="286.70" r="1.30" fill="#2f6a55" stroke="none" stroke-width="0" />
<line x1="444.00" y1="257.10" x2="457.50" y2="257.10" stroke="#9a90c8" stroke-width="1.1" />
<circle cx="450.80" cy="257.10" r="2.50" fill="#9a90c8" stroke="#645d82" stroke-width="0.5" />
<text x="461.3" y="259.2" font-size="8.8" text-anchor="start" fill="#2b2b2b" font-weight="normal" font-style="italic" textLength="13.0" lengthAdjust="spacingAndGlyphs"  stroke="#2b2b2b" stroke-width="0.18">WT</text>
<line x1="444.00" y1="277.30" x2="457.50" y2="277.30" stroke="#0b6b4b" stroke-width="1.1" />
<circle cx="450.80" cy="277.30" r="2.50" fill="#0b6b4b" stroke="#074530" stroke-width="0.5" />
<text x="461.3" y="275.0" font-size="8.8" text-anchor="start" fill="#2b2b2b" font-weight="normal" font-style="normal" textLength="37.5" lengthAdjust="spacingAndGlyphs"  stroke="#2b2b2b" stroke-width="0.18">CB-839 +</text>
<text x="461.3" y="284.6" font-size="8.8" text-anchor="start" fill="#2b2b2b" font-weight="normal" font-style="normal" textLength="37.8" lengthAdjust="spacingAndGlyphs"  stroke="#2b2b2b" stroke-width="0.18">Ruxolitinib</text>
<line x1="444.00" y1="295.80" x2="457.50" y2="295.80" stroke="#3cae3c" stroke-width="1.1" />
<circle cx="450.80" cy="295.80" r="2.50" fill="#3cae3c" stroke="#277127" stroke-width="0.5" />
<text x="461.3" y="298.5" font-size="8.8" text-anchor="start" fill="#2b2b2b" font-weight="normal" font-style="normal" textLength="37.8" lengthAdjust="spacingAndGlyphs"  stroke="#2b2b2b" stroke-width="0.18">Ruxolitinib</text>
<line x1="444.00" y1="314.40" x2="457.50" y2="314.40" stroke="#f39200" stroke-width="1.1" />
<circle cx="450.80" cy="314.40" r="2.50" fill="#f39200" stroke="#9d5e00" stroke-width="0.5" />
<text x="461.3" y="317.3" font-size="8.8" text-anchor="start" fill="#2b2b2b" font-weight="normal" font-style="normal" textLength="29.6" lengthAdjust="spacingAndGlyphs"  stroke="#2b2b2b" stroke-width="0.18">CB-839</text>
<line x1="444.00" y1="333.70" x2="457.50" y2="333.70" stroke="#c8102e" stroke-width="1.1" />
<circle cx="450.80" cy="333.70" r="2.50" fill="#c8102e" stroke="#820a1d" stroke-width="0.5" />
<text x="461.3" y="336.2" font-size="8.8" text-anchor="start" fill="#2b2b2b" font-weight="normal" font-style="normal" textLength="26.8" lengthAdjust="spacingAndGlyphs"  stroke="#2b2b2b" stroke-width="0.18">Vehicle</text>
<text x="8.5" y="414.6" font-size="13" text-anchor="start" fill="#000" font-weight="bold" font-style="normal" >F</text>
<text x="43.75" y="430.5" font-size="10.5" text-anchor="start" fill="#2b2b2b" font-weight="normal" font-style="normal" textLength="80.7" lengthAdjust="spacingAndGlyphs"  stroke="#2b2b2b" stroke-width="0.18">Hemoglobin (g/L)</text>
<rect x="43.60" y="467.15" width="82.00" height="27.07" fill="#dedede" />
<line x1="42.60" y1="437.60" x2="42.60" y2="539.30" stroke="#161616" stroke-width="1.55" />
<line x1="39.40" y1="449.25" x2="42.60" y2="449.25" stroke="#161616" stroke-width="1" />
<text x="36.2" y="452.15" font-size="8.2" text-anchor="end" fill="#2b2b2b" font-weight="normal" font-style="normal" textLength="14.850000000000001" lengthAdjust="spacingAndGlyphs"  stroke="#2b2b2b" stroke-width="0.18">200</text>
<line x1="39.40" y1="467.15" x2="42.60" y2="467.15" stroke="#161616" stroke-width="1" />
<text x="36.2" y="470.04999999999995" font-size="8.2" text-anchor="end" fill="#2b2b2b" font-weight="normal" font-style="normal" textLength="14.850000000000001" lengthAdjust="spacingAndGlyphs"  stroke="#2b2b2b" stroke-width="0.18">160</text>
<line x1="39.40" y1="485.05" x2="42.60" y2="485.05" stroke="#161616" stroke-width="1" />
<text x="36.2" y="487.95" font-size="8.2" text-anchor="end" fill="#2b2b2b" font-weight="normal" font-style="normal" textLength="14.850000000000001" lengthAdjust="spacingAndGlyphs"  stroke="#2b2b2b" stroke-width="0.18">120</text>
<line x1="39.40" y1="502.95" x2="42.60" y2="502.95" stroke="#161616" stroke-width="1" />
<text x="36.2" y="505.84999999999997" font-size="8.2" text-anchor="end" fill="#2b2b2b" font-weight="normal" font-style="normal" textLength="9.9" lengthAdjust="spacingAndGlyphs"  stroke="#2b2b2b" stroke-width="0.18">80</text>
<line x1="39.40" y1="520.85" x2="42.60" y2="520.85" stroke="#161616" stroke-width="1" />
<text x="36.2" y="523.75" font-size="8.2" text-anchor="end" fill="#2b2b2b" font-weight="normal" font-style="normal" textLength="9.9" lengthAdjust="spacingAndGlyphs"  stroke="#2b2b2b" stroke-width="0.18">40</text>
<line x1="39.40" y1="538.75" x2="42.60" y2="538.75" stroke="#161616" stroke-width="1" />
<text x="36.2" y="541.65" font-size="8.2" text-anchor="end" fill="#2b2b2b" font-weight="normal" font-style="normal" textLength="4.95" lengthAdjust="spacingAndGlyphs"  stroke="#2b2b2b" stroke-width="0.18">0</text>
<line x1="40.80" y1="529.80" x2="42.60" y2="529.80" stroke="#161616" stroke-width="1" />
<line x1="40.80" y1="511.90" x2="42.60" y2="511.90" stroke="#161616" stroke-width="1" />
<line x1="40.80" y1="494.00" x2="42.60" y2="494.00" stroke="#161616" stroke-width="1" />
<line x1="40.80" y1="476.10" x2="42.60" y2="476.10" stroke="#161616" stroke-width="1" />
<line x1="40.80" y1="458.20" x2="42.60" y2="458.20" stroke="#161616" stroke-width="1" />
<line x1="40.80" y1="440.30" x2="42.60" y2="440.30" stroke="#161616" stroke-width="1" />
<line x1="42.00" y1="538.75" x2="125.20" y2="538.75" stroke="#161616" stroke-width="1.55" />
<line x1="49.25" y1="538.75" x2="49.25" y2="541.40" stroke="#161616" stroke-width="1" />
<line x1="87.50" y1="538.75" x2="87.50" y2="541.40" stroke="#161616" stroke-width="1" />
<line x1="119.38" y1="538.75" x2="119.38" y2="541.40" stroke="#161616" stroke-width="1" />
<text x="49.25" y="553.7" font-size="8.2" text-anchor="middle" fill="#2b2b2b" font-weight="normal" font-style="normal" textLength="4.9" lengthAdjust="spacingAndGlyphs"  stroke="#2b2b2b" stroke-width="0.18">0</text>
<text x="87.5" y="553.7" font-size="8.2" text-anchor="middle" fill="#2b2b2b" font-weight="normal" font-style="normal" textLength="4.9" lengthAdjust="spacingAndGlyphs"  stroke="#2b2b2b" stroke-width="0.18">6</text>
<text x="119.375" y="553.7" font-size="8.2" text-anchor="middle" fill="#2b2b2b" font-weight="normal" font-style="normal" textLength="9.4" lengthAdjust="spacingAndGlyphs"  stroke="#2b2b2b" stroke-width="0.18">11</text>
<text x="51.25" y="568.4" font-size="9.9" text-anchor="start" fill="#2b2b2b" font-weight="normal" font-style="normal" textLength="65" lengthAdjust="spacingAndGlyphs" stroke="#2b2b2b" stroke-width="0.25">Weeks of treatment</text>
<path d="M49.25,476.10 L87.50,473.24 L119.38,468.05" fill="none" stroke="#f39200" stroke-width="1.2" />
<line x1="49.25" y1="474.76" x2="49.25" y2="477.44" stroke="#f39200" stroke-width="0.9" />
<line x1="46.65" y1="474.76" x2="51.85" y2="474.76" stroke="#f39200" stroke-width="1.1" />
<line x1="46.65" y1="477.44" x2="51.85" y2="477.44" stroke="#f39200" stroke-width="1.1" />
<line x1="87.50" y1="471.45" x2="87.50" y2="475.03" stroke="#f39200" stroke-width="0.9" />
<line x1="84.90" y1="471.45" x2="90.10" y2="471.45" stroke="#f39200" stroke-width="1.1" />
<line x1="84.90" y1="475.03" x2="90.10" y2="475.03" stroke="#f39200" stroke-width="1.1" />
<line x1="119.38" y1="464.47" x2="119.38" y2="471.62" stroke="#f39200" stroke-width="0.9" />
<line x1="116.78" y1="464.47" x2="121.97" y2="464.47" stroke="#f39200" stroke-width="1.1" />
<line x1="116.78" y1="471.62" x2="121.97" y2="471.62" stroke="#f39200" stroke-width="1.1" />
<circle cx="49.25" cy="476.10" r="2.40" fill="#f39200" stroke="#9d5e00" stroke-width="0.5" />
<circle cx="87.50" cy="473.24" r="2.40" fill="#f39200" stroke="#9d5e00" stroke-width="0.5" />
<circle cx="119.38" cy="468.05" r="2.40" fill="#f39200" stroke="#9d5e00" stroke-width="0.5" />
<path d="M49.25,474.49 L87.50,482.50 L119.38,479.23" fill="none" stroke="#0b6b4b" stroke-width="1.2" />
<line x1="49.25" y1="473.15" x2="49.25" y2="475.83" stroke="#0b6b4b" stroke-width="0.9" />
<line x1="46.65" y1="473.15" x2="51.85" y2="473.15" stroke="#0b6b4b" stroke-width="1.1" />
<line x1="46.65" y1="475.83" x2="51.85" y2="475.83" stroke="#0b6b4b" stroke-width="1.1" />
<line x1="87.50" y1="481.16" x2="87.50" y2="483.84" stroke="#0b6b4b" stroke-width="0.9" />
<line x1="84.90" y1="481.16" x2="90.10" y2="481.16" stroke="#0b6b4b" stroke-width="1.1" />
<line x1="84.90" y1="483.84" x2="90.10" y2="483.84" stroke="#0b6b4b" stroke-width="1.1" />
<line x1="119.38" y1="477.44" x2="119.38" y2="481.02" stroke="#0b6b4b" stroke-width="0.9" />
<line x1="116.78" y1="477.44" x2="121.97" y2="477.44" stroke="#0b6b4b" stroke-width="1.1" />
<line x1="116.78" y1="481.02" x2="121.97" y2="481.02" stroke="#0b6b4b" stroke-width="1.1" />
<circle cx="49.25" cy="474.49" r="2.40" fill="#0b6b4b" stroke="#074530" stroke-width="0.5" />
<circle cx="87.50" cy="482.50" r="2.40" fill="#0b6b4b" stroke="#074530" stroke-width="0.5" />
<circle cx="119.38" cy="479.23" r="2.40" fill="#0b6b4b" stroke="#074530" stroke-width="0.5" />
<path d="M49.25,475.65 L87.50,482.50 L119.38,476.23" fill="none" stroke="#3cae3c" stroke-width="1.2" />
<line x1="49.25" y1="474.31" x2="49.25" y2="477.00" stroke="#3cae3c" stroke-width="0.9" />
<line x1="46.65" y1="474.31" x2="51.85" y2="474.31" stroke="#3cae3c" stroke-width="1.1" />
<line x1="46.65" y1="477.00" x2="51.85" y2="477.00" stroke="#3cae3c" stroke-width="1.1" />
<line x1="87.50" y1="481.16" x2="87.50" y2="483.84" stroke="#3cae3c" stroke-width="0.9" />
<line x1="84.90" y1="481.16" x2="90.10" y2="481.16" stroke="#3cae3c" stroke-width="1.1" />
<line x1="84.90" y1="483.84" x2="90.10" y2="483.84" stroke="#3cae3c" stroke-width="1.1" />
<line x1="119.38" y1="474.44" x2="119.38" y2="478.02" stroke="#3cae3c" stroke-width="0.9" />
<line x1="116.78" y1="474.44" x2="121.97" y2="474.44" stroke="#3cae3c" stroke-width="1.1" />
<line x1="116.78" y1="478.02" x2="121.97" y2="478.02" stroke="#3cae3c" stroke-width="1.1" />
<circle cx="49.25" cy="475.65" r="2.40" fill="#3cae3c" stroke="#277127" stroke-width="0.5" />
<circle cx="87.50" cy="482.50" r="2.40" fill="#3cae3c" stroke="#277127" stroke-width="0.5" />
<circle cx="119.38" cy="476.23" r="2.40" fill="#3cae3c" stroke="#277127" stroke-width="0.5" />
<path d="M49.25,476.23 L87.50,468.27 L119.38,453.28" fill="none" stroke="#c8102e" stroke-width="1.2" />
<line x1="49.25" y1="474.89" x2="49.25" y2="477.58" stroke="#c8102e" stroke-width="0.9" />
<line x1="46.65" y1="474.89" x2="51.85" y2="474.89" stroke="#c8102e" stroke-width="1.1" />
<line x1="46.65" y1="477.58" x2="51.85" y2="477.58" stroke="#c8102e" stroke-width="1.1" />
<line x1="87.50" y1="466.93" x2="87.50" y2="469.61" stroke="#c8102e" stroke-width="0.9" />
<line x1="84.90" y1="466.93" x2="90.10" y2="466.93" stroke="#c8102e" stroke-width="1.1" />
<line x1="84.90" y1="469.61" x2="90.10" y2="469.61" stroke="#c8102e" stroke-width="1.1" />
<line x1="119.38" y1="449.70" x2="119.38" y2="456.86" stroke="#c8102e" stroke-width="0.9" />
<line x1="116.78" y1="449.70" x2="121.97" y2="449.70" stroke="#c8102e" stroke-width="1.1" />
<line x1="116.78" y1="456.86" x2="121.97" y2="456.86" stroke="#c8102e" stroke-width="1.1" />
<circle cx="49.25" cy="476.23" r="2.40" fill="#c8102e" stroke="#820a1d" stroke-width="0.5" />
<circle cx="87.50" cy="468.27" r="2.40" fill="#c8102e" stroke="#820a1d" stroke-width="0.5" />
<circle cx="119.38" cy="453.28" r="2.40" fill="#c8102e" stroke="#820a1d" stroke-width="0.5" />
<circle cx="128.75" cy="469.75" r="1.20" fill="#f0b860" stroke="none" stroke-width="0" />
<circle cx="132.25" cy="469.75" r="1.20" fill="#f0b860" stroke="none" stroke-width="0" />
<circle cx="135.75" cy="469.75" r="1.20" fill="#f0b860" stroke="none" stroke-width="0" />
<circle cx="139.25" cy="469.75" r="1.20" fill="#f0b860" stroke="none" stroke-width="0" />
<circle cx="128.75" cy="476.90" r="1.20" fill="#55a85a" stroke="none" stroke-width="0" />
<circle cx="132.25" cy="476.90" r="1.20" fill="#55a85a" stroke="none" stroke-width="0" />
<circle cx="135.75" cy="476.90" r="1.20" fill="#55a85a" stroke="none" stroke-width="0" />
<circle cx="139.25" cy="476.90" r="1.20" fill="#55a85a" stroke="none" stroke-width="0" />
<circle cx="128.75" cy="481.00" r="1.20" fill="#2a6a50" stroke="none" stroke-width="0" />
<circle cx="132.25" cy="481.00" r="1.20" fill="#2a6a50" stroke="none" stroke-width="0" />
<circle cx="135.75" cy="481.00" r="1.20" fill="#2a6a50" stroke="none" stroke-width="0" />
<circle cx="139.25" cy="481.00" r="1.20" fill="#2a6a50" stroke="none" stroke-width="0" />
<text x="183.75" y="430.5" font-size="10.5" fill="#2b2b2b" textLength="80.8" lengthAdjust="spacingAndGlyphs">Platelets (10<tspan font-size="7" dy="-3.8">12</tspan><tspan dy="3.8">/L)</tspan></text>
<rect x="183.60" y="476.05" width="82.00" height="31.60" fill="#dedede" />
<line x1="182.60" y1="437.80" x2="182.60" y2="539.80" stroke="#161616" stroke-width="1.55" />
<line x1="179.40" y1="440.50" x2="182.60" y2="440.50" stroke="#161616" stroke-width="1" />
<text x="176.4" y="443.4" font-size="8.2" text-anchor="end" fill="#2b2b2b" font-weight="normal" font-style="normal" textLength="12" lengthAdjust="spacingAndGlyphs"  stroke="#2b2b2b" stroke-width="0.18">2.5</text>
<line x1="179.40" y1="460.25" x2="182.60" y2="460.25" stroke="#161616" stroke-width="1" />
<text x="176.4" y="463.15" font-size="8.2" text-anchor="end" fill="#2b2b2b" font-weight="normal" font-style="normal" textLength="12" lengthAdjust="spacingAndGlyphs"  stroke="#2b2b2b" stroke-width="0.18">2.0</text>
<line x1="179.40" y1="480.00" x2="182.60" y2="480.00" stroke="#161616" stroke-width="1" />
<text x="176.4" y="482.9" font-size="8.2" text-anchor="end" fill="#2b2b2b" font-weight="normal" font-style="normal" textLength="12" lengthAdjust="spacingAndGlyphs"  stroke="#2b2b2b" stroke-width="0.18">1.5</text>
<line x1="179.40" y1="499.75" x2="182.60" y2="499.75" stroke="#161616" stroke-width="1" />
<text x="176.4" y="502.65" font-size="8.2" text-anchor="end" fill="#2b2b2b" font-weight="normal" font-style="normal" textLength="12" lengthAdjust="spacingAndGlyphs"  stroke="#2b2b2b" stroke-width="0.18">1.0</text>
<line x1="179.40" y1="519.50" x2="182.60" y2="519.50" stroke="#161616" stroke-width="1" />
<text x="176.4" y="522.4" font-size="8.2" text-anchor="end" fill="#2b2b2b" font-weight="normal" font-style="normal" textLength="12" lengthAdjust="spacingAndGlyphs"  stroke="#2b2b2b" stroke-width="0.18">0.5</text>
<line x1="179.40" y1="539.25" x2="182.60" y2="539.25" stroke="#161616" stroke-width="1" />
<text x="176.4" y="542.15" font-size="8.2" text-anchor="end" fill="#2b2b2b" font-weight="normal" font-style="normal" textLength="4.9" lengthAdjust="spacingAndGlyphs"  stroke="#2b2b2b" stroke-width="0.18">0</text>
<line x1="182.00" y1="539.25" x2="265.20" y2="539.25" stroke="#161616" stroke-width="1.55" />
<line x1="189.25" y1="539.25" x2="189.25" y2="541.90" stroke="#161616" stroke-width="1" />
<line x1="227.50" y1="539.25" x2="227.50" y2="541.90" stroke="#161616" stroke-width="1" />
<line x1="259.38" y1="539.25" x2="259.38" y2="541.90" stroke="#161616" stroke-width="1" />
<text x="189.25" y="553.3" font-size="8.2" text-anchor="middle" fill="#2b2b2b" font-weight="normal" font-style="normal" textLength="4.9" lengthAdjust="spacingAndGlyphs"  stroke="#2b2b2b" stroke-width="0.18">0</text>
<text x="227.5" y="553.3" font-size="8.2" text-anchor="middle" fill="#2b2b2b" font-weight="normal" font-style="normal" textLength="4.9" lengthAdjust="spacingAndGlyphs"  stroke="#2b2b2b" stroke-width="0.18">6</text>
<text x="259.375" y="553.3" font-size="8.2" text-anchor="middle" fill="#2b2b2b" font-weight="normal" font-style="normal" textLength="9.4" lengthAdjust="spacingAndGlyphs"  stroke="#2b2b2b" stroke-width="0.18">11</text>
<path d="M189.25,505.68 L227.50,490.67 L259.38,489.48" fill="none" stroke="#f39200" stroke-width="1.2" />
<line x1="189.25" y1="504.10" x2="189.25" y2="507.25" stroke="#f39200" stroke-width="0.9" />
<line x1="186.65" y1="504.10" x2="191.85" y2="504.10" stroke="#f39200" stroke-width="1.1" />
<line x1="186.65" y1="507.25" x2="191.85" y2="507.25" stroke="#f39200" stroke-width="1.1" />
<line x1="227.50" y1="480.79" x2="227.50" y2="500.54" stroke="#f39200" stroke-width="0.9" />
<line x1="224.90" y1="480.79" x2="230.10" y2="480.79" stroke="#f39200" stroke-width="1.1" />
<line x1="224.90" y1="500.54" x2="230.10" y2="500.54" stroke="#f39200" stroke-width="1.1" />
<line x1="259.38" y1="475.66" x2="259.38" y2="503.31" stroke="#f39200" stroke-width="0.9" />
<line x1="256.77" y1="475.66" x2="261.98" y2="475.66" stroke="#f39200" stroke-width="1.1" />
<line x1="256.77" y1="503.31" x2="261.98" y2="503.31" stroke="#f39200" stroke-width="1.1" />
<circle cx="189.25" cy="505.68" r="2.40" fill="#f39200" stroke="#9d5e00" stroke-width="0.5" />
<circle cx="227.50" cy="490.67" r="2.40" fill="#f39200" stroke="#9d5e00" stroke-width="0.5" />
<circle cx="259.38" cy="489.48" r="2.40" fill="#f39200" stroke="#9d5e00" stroke-width="0.5" />
<path d="M189.25,506.86 L227.50,472.10 L259.38,470.52" fill="none" stroke="#3cae3c" stroke-width="1.2" />
<line x1="189.25" y1="505.68" x2="189.25" y2="508.05" stroke="#3cae3c" stroke-width="0.9" />
<line x1="186.65" y1="505.68" x2="191.85" y2="505.68" stroke="#3cae3c" stroke-width="1.1" />
<line x1="186.65" y1="508.05" x2="191.85" y2="508.05" stroke="#3cae3c" stroke-width="1.1" />
<line x1="227.50" y1="464.99" x2="227.50" y2="479.21" stroke="#3cae3c" stroke-width="0.9" />
<line x1="224.90" y1="464.99" x2="230.10" y2="464.99" stroke="#3cae3c" stroke-width="1.1" />
<line x1="224.90" y1="479.21" x2="230.10" y2="479.21" stroke="#3cae3c" stroke-width="1.1" />
<line x1="259.38" y1="462.62" x2="259.38" y2="478.42" stroke="#3cae3c" stroke-width="0.9" />
<line x1="256.77" y1="462.62" x2="261.98" y2="462.62" stroke="#3cae3c" stroke-width="1.1" />
<line x1="256.77" y1="478.42" x2="261.98" y2="478.42" stroke="#3cae3c" stroke-width="1.1" />
<circle cx="189.25" cy="506.86" r="2.40" fill="#3cae3c" stroke="#277127" stroke-width="0.5" />
<circle cx="227.50" cy="472.10" r="2.40" fill="#3cae3c" stroke="#277127" stroke-width="0.5" />
<circle cx="259.38" cy="470.52" r="2.40" fill="#3cae3c" stroke="#277127" stroke-width="0.5" />
<path d="M189.25,505.28 L227.50,485.93 L259.38,477.24" fill="none" stroke="#0b6b4b" stroke-width="1.2" />
<line x1="189.25" y1="504.10" x2="189.25" y2="506.47" stroke="#0b6b4b" stroke-width="0.9" />
<line x1="186.65" y1="504.10" x2="191.85" y2="504.10" stroke="#0b6b4b" stroke-width="1.1" />
<line x1="186.65" y1="506.47" x2="191.85" y2="506.47" stroke="#0b6b4b" stroke-width="1.1" />
<line x1="227.50" y1="481.19" x2="227.50" y2="490.67" stroke="#0b6b4b" stroke-width="0.9" />
<line x1="224.90" y1="481.19" x2="230.10" y2="481.19" stroke="#0b6b4b" stroke-width="1.1" />
<line x1="224.90" y1="490.67" x2="230.10" y2="490.67" stroke="#0b6b4b" stroke-width="1.1" />
<line x1="259.38" y1="469.33" x2="259.38" y2="485.13" stroke="#0b6b4b" stroke-width="0.9" />
<line x1="256.77" y1="469.33" x2="261.98" y2="469.33" stroke="#0b6b4b" stroke-width="1.1" />
<line x1="256.77" y1="485.13" x2="261.98" y2="485.13" stroke="#0b6b4b" stroke-width="1.1" />
<circle cx="189.25" cy="505.28" r="2.40" fill="#0b6b4b" stroke="#074530" stroke-width="0.5" />
<circle cx="227.50" cy="485.93" r="2.40" fill="#0b6b4b" stroke="#074530" stroke-width="0.5" />
<circle cx="259.38" cy="477.24" r="2.40" fill="#0b6b4b" stroke="#074530" stroke-width="0.5" />
<path d="M189.25,504.10 L227.50,497.38 L259.38,477.63" fill="none" stroke="#c8102e" stroke-width="1.2" />
<line x1="189.25" y1="502.91" x2="189.25" y2="505.28" stroke="#c8102e" stroke-width="0.9" />
<line x1="186.65" y1="502.91" x2="191.85" y2="502.91" stroke="#c8102e" stroke-width="1.1" />
<line x1="186.65" y1="505.28" x2="191.85" y2="505.28" stroke="#c8102e" stroke-width="1.1" />
<line x1="227.50" y1="495.01" x2="227.50" y2="499.75" stroke="#c8102e" stroke-width="0.9" />
<line x1="224.90" y1="495.01" x2="230.10" y2="495.01" stroke="#c8102e" stroke-width="1.1" />
<line x1="224.90" y1="499.75" x2="230.10" y2="499.75" stroke="#c8102e" stroke-width="1.1" />
<line x1="259.38" y1="470.52" x2="259.38" y2="484.74" stroke="#c8102e" stroke-width="0.9" />
<line x1="256.77" y1="470.52" x2="261.98" y2="470.52" stroke="#c8102e" stroke-width="1.1" />
<line x1="256.77" y1="484.74" x2="261.98" y2="484.74" stroke="#c8102e" stroke-width="1.1" />
<circle cx="189.25" cy="504.10" r="2.40" fill="#c8102e" stroke="#820a1d" stroke-width="0.5" />
<circle cx="227.50" cy="497.38" r="2.40" fill="#c8102e" stroke="#820a1d" stroke-width="0.5" />
<circle cx="259.38" cy="477.63" r="2.40" fill="#c8102e" stroke="#820a1d" stroke-width="0.5" />
<circle cx="227.50" cy="456.30" r="1.30" fill="#5aa860" stroke="none" stroke-width="0" />
<text x="325" y="430.5" font-size="10.5" fill="#2b2b2b" textLength="88.7" lengthAdjust="spacingAndGlyphs">Neutrophils (10<tspan font-size="7" dy="-3.8">9</tspan><tspan dy="3.8">/L)</tspan></text>
<rect x="329.20" y="499.55" width="82.00" height="36.33" fill="#dedede" />
<line x1="328.30" y1="437.50" x2="328.30" y2="539.80" stroke="#161616" stroke-width="1.55" />
<line x1="325.10" y1="440.00" x2="328.30" y2="440.00" stroke="#161616" stroke-width="1" />
<text x="322" y="442.9" font-size="8.2" text-anchor="end" fill="#2b2b2b" font-weight="normal" font-style="normal" textLength="4.9" lengthAdjust="spacingAndGlyphs"  stroke="#2b2b2b" stroke-width="0.18">5</text>
<line x1="325.10" y1="459.85" x2="328.30" y2="459.85" stroke="#161616" stroke-width="1" />
<text x="322" y="462.75" font-size="8.2" text-anchor="end" fill="#2b2b2b" font-weight="normal" font-style="normal" textLength="4.9" lengthAdjust="spacingAndGlyphs"  stroke="#2b2b2b" stroke-width="0.18">4</text>
<line x1="325.10" y1="479.70" x2="328.30" y2="479.70" stroke="#161616" stroke-width="1" />
<text x="322" y="482.59999999999997" font-size="8.2" text-anchor="end" fill="#2b2b2b" font-weight="normal" font-style="normal" textLength="4.9" lengthAdjust="spacingAndGlyphs"  stroke="#2b2b2b" stroke-width="0.18">3</text>
<line x1="325.10" y1="499.55" x2="328.30" y2="499.55" stroke="#161616" stroke-width="1" />
<text x="322" y="502.45" font-size="8.2" text-anchor="end" fill="#2b2b2b" font-weight="normal" font-style="normal" textLength="4.9" lengthAdjust="spacingAndGlyphs"  stroke="#2b2b2b" stroke-width="0.18">2</text>
<line x1="325.10" y1="519.40" x2="328.30" y2="519.40" stroke="#161616" stroke-width="1" />
<text x="322" y="522.3" font-size="8.2" text-anchor="end" fill="#2b2b2b" font-weight="normal" font-style="normal" textLength="4.9" lengthAdjust="spacingAndGlyphs"  stroke="#2b2b2b" stroke-width="0.18">1</text>
<line x1="325.10" y1="539.25" x2="328.30" y2="539.25" stroke="#161616" stroke-width="1" />
<text x="322" y="542.15" font-size="8.2" text-anchor="end" fill="#2b2b2b" font-weight="normal" font-style="normal" textLength="4.9" lengthAdjust="spacingAndGlyphs"  stroke="#2b2b2b" stroke-width="0.18">0</text>
<line x1="327.70" y1="539.25" x2="411.30" y2="539.25" stroke="#161616" stroke-width="1.55" />
<line x1="334.50" y1="539.25" x2="334.50" y2="541.90" stroke="#161616" stroke-width="1" />
<line x1="372.66" y1="539.25" x2="372.66" y2="541.90" stroke="#161616" stroke-width="1" />
<line x1="404.46" y1="539.25" x2="404.46" y2="541.90" stroke="#161616" stroke-width="1" />
<text x="334.5" y="553.3" font-size="8.2" text-anchor="middle" fill="#2b2b2b" font-weight="normal" font-style="normal" textLength="4.9" lengthAdjust="spacingAndGlyphs"  stroke="#2b2b2b" stroke-width="0.18">0</text>
<text x="372.66" y="553.3" font-size="8.2" text-anchor="middle" fill="#2b2b2b" font-weight="normal" font-style="normal" textLength="4.9" lengthAdjust="spacingAndGlyphs"  stroke="#2b2b2b" stroke-width="0.18">6</text>
<text x="404.46000000000004" y="553.3" font-size="8.2" text-anchor="middle" fill="#2b2b2b" font-weight="normal" font-style="normal" textLength="9.4" lengthAdjust="spacingAndGlyphs"  stroke="#2b2b2b" stroke-width="0.18">11</text>
<path d="M334.50,525.36 L372.66,521.38 L404.46,498.76" fill="none" stroke="#f39200" stroke-width="1.2" />
<line x1="334.50" y1="524.36" x2="334.50" y2="526.35" stroke="#f39200" stroke-width="0.9" />
<line x1="331.90" y1="524.36" x2="337.10" y2="524.36" stroke="#f39200" stroke-width="1.1" />
<line x1="331.90" y1="526.35" x2="337.10" y2="526.35" stroke="#f39200" stroke-width="1.1" />
<line x1="372.66" y1="515.43" x2="372.66" y2="527.34" stroke="#f39200" stroke-width="0.9" />
<line x1="370.06" y1="515.43" x2="375.26" y2="515.43" stroke="#f39200" stroke-width="1.1" />
<line x1="370.06" y1="527.34" x2="375.26" y2="527.34" stroke="#f39200" stroke-width="1.1" />
<line x1="404.46" y1="491.21" x2="404.46" y2="506.30" stroke="#f39200" stroke-width="0.9" />
<line x1="401.86" y1="491.21" x2="407.06" y2="491.21" stroke="#f39200" stroke-width="1.1" />
<line x1="401.86" y1="506.30" x2="407.06" y2="506.30" stroke="#f39200" stroke-width="1.1" />
<circle cx="334.50" cy="525.36" r="2.40" fill="#f39200" stroke="#9d5e00" stroke-width="0.5" />
<circle cx="372.66" cy="521.38" r="2.40" fill="#f39200" stroke="#9d5e00" stroke-width="0.5" />
<circle cx="404.46" cy="498.76" r="2.40" fill="#f39200" stroke="#9d5e00" stroke-width="0.5" />
<path d="M334.50,527.94 L372.66,521.78 L404.46,519.40" fill="none" stroke="#3cae3c" stroke-width="1.2" />
<line x1="334.50" y1="526.94" x2="334.50" y2="528.93" stroke="#3cae3c" stroke-width="0.9" />
<line x1="331.90" y1="526.94" x2="337.10" y2="526.94" stroke="#3cae3c" stroke-width="1.1" />
<line x1="331.90" y1="528.93" x2="337.10" y2="528.93" stroke="#3cae3c" stroke-width="1.1" />
<line x1="372.66" y1="519.80" x2="372.66" y2="523.77" stroke="#3cae3c" stroke-width="0.9" />
<line x1="370.06" y1="519.80" x2="375.26" y2="519.80" stroke="#3cae3c" stroke-width="1.1" />
<line x1="370.06" y1="523.77" x2="375.26" y2="523.77" stroke="#3cae3c" stroke-width="1.1" />
<line x1="404.46" y1="513.45" x2="404.46" y2="525.36" stroke="#3cae3c" stroke-width="0.9" />
<line x1="401.86" y1="513.45" x2="407.06" y2="513.45" stroke="#3cae3c" stroke-width="1.1" />
<line x1="401.86" y1="525.36" x2="407.06" y2="525.36" stroke="#3cae3c" stroke-width="1.1" />
<circle cx="334.50" cy="527.94" r="2.40" fill="#3cae3c" stroke="#277127" stroke-width="0.5" />
<circle cx="372.66" cy="521.78" r="2.40" fill="#3cae3c" stroke="#277127" stroke-width="0.5" />
<circle cx="404.46" cy="519.40" r="2.40" fill="#3cae3c" stroke="#277127" stroke-width="0.5" />
<path d="M334.50,525.55 L372.66,526.94 L404.46,516.22" fill="none" stroke="#0b6b4b" stroke-width="1.2" />
<line x1="334.50" y1="520.59" x2="334.50" y2="530.52" stroke="#0b6b4b" stroke-width="0.9" />
<line x1="331.90" y1="520.59" x2="337.10" y2="520.59" stroke="#0b6b4b" stroke-width="1.1" />
<line x1="331.90" y1="530.52" x2="337.10" y2="530.52" stroke="#0b6b4b" stroke-width="1.1" />
<line x1="372.66" y1="525.95" x2="372.66" y2="527.94" stroke="#0b6b4b" stroke-width="0.9" />
<line x1="370.06" y1="525.95" x2="375.26" y2="525.95" stroke="#0b6b4b" stroke-width="1.1" />
<line x1="370.06" y1="527.94" x2="375.26" y2="527.94" stroke="#0b6b4b" stroke-width="1.1" />
<line x1="404.46" y1="506.30" x2="404.46" y2="526.15" stroke="#0b6b4b" stroke-width="0.9" />
<line x1="401.86" y1="506.30" x2="407.06" y2="506.30" stroke="#0b6b4b" stroke-width="1.1" />
<line x1="401.86" y1="526.15" x2="407.06" y2="526.15" stroke="#0b6b4b" stroke-width="1.1" />
<circle cx="334.50" cy="525.55" r="2.40" fill="#0b6b4b" stroke="#074530" stroke-width="0.5" />
<circle cx="372.66" cy="526.94" r="2.40" fill="#0b6b4b" stroke="#074530" stroke-width="0.5" />
<circle cx="404.46" cy="516.22" r="2.40" fill="#0b6b4b" stroke="#074530" stroke-width="0.5" />
<path d="M334.50,524.56 L372.66,520.00 L404.46,476.72" fill="none" stroke="#c8102e" stroke-width="1.2" />
<line x1="334.50" y1="522.58" x2="334.50" y2="526.55" stroke="#c8102e" stroke-width="0.9" />
<line x1="331.90" y1="522.58" x2="337.10" y2="522.58" stroke="#c8102e" stroke-width="1.1" />
<line x1="331.90" y1="526.55" x2="337.10" y2="526.55" stroke="#c8102e" stroke-width="1.1" />
<line x1="372.66" y1="518.01" x2="372.66" y2="521.98" stroke="#c8102e" stroke-width="0.9" />
<line x1="370.06" y1="518.01" x2="375.26" y2="518.01" stroke="#c8102e" stroke-width="1.1" />
<line x1="370.06" y1="521.98" x2="375.26" y2="521.98" stroke="#c8102e" stroke-width="1.1" />
<line x1="404.46" y1="450.52" x2="404.46" y2="502.92" stroke="#c8102e" stroke-width="0.9" />
<line x1="401.86" y1="450.52" x2="407.06" y2="450.52" stroke="#c8102e" stroke-width="1.1" />
<line x1="401.86" y1="502.92" x2="407.06" y2="502.92" stroke="#c8102e" stroke-width="1.1" />
<circle cx="334.50" cy="524.56" r="2.40" fill="#c8102e" stroke="#820a1d" stroke-width="0.5" />
<circle cx="372.66" cy="520.00" r="2.40" fill="#c8102e" stroke="#820a1d" stroke-width="0.5" />
<circle cx="404.46" cy="476.72" r="2.40" fill="#c8102e" stroke="#820a1d" stroke-width="0.5" />
<circle cx="413.40" cy="515.60" r="1.20" fill="#2a6a8a" stroke="none" stroke-width="0" />
<circle cx="416.90" cy="515.60" r="1.20" fill="#2a6a8a" stroke="none" stroke-width="0" />
<circle cx="413.40" cy="520.90" r="1.20" fill="#55a85a" stroke="none" stroke-width="0" />
<circle cx="416.90" cy="520.90" r="1.20" fill="#55a85a" stroke="none" stroke-width="0" />
<line x1="444.00" y1="548.70" x2="457.50" y2="548.70" stroke="#c8102e" stroke-width="1.1" />
<circle cx="450.80" cy="548.70" r="2.50" fill="#c8102e" stroke="#820a1d" stroke-width="0.5" />
<text x="461.3" y="550.8" font-size="8.8" text-anchor="start" fill="#2b2b2b" font-weight="normal" font-style="normal" textLength="26.8" lengthAdjust="spacingAndGlyphs"  stroke="#2b2b2b" stroke-width="0.18">Vehicle</text>
<line x1="444.00" y1="567.10" x2="457.50" y2="567.10" stroke="#f39200" stroke-width="1.1" />
<circle cx="450.80" cy="567.10" r="2.50" fill="#f39200" stroke="#9d5e00" stroke-width="0.5" />
<text x="461.3" y="569.4" font-size="8.8" text-anchor="start" fill="#2b2b2b" font-weight="normal" font-style="normal" textLength="29.6" lengthAdjust="spacingAndGlyphs"  stroke="#2b2b2b" stroke-width="0.18">CB-839</text>
<line x1="444.00" y1="585.80" x2="457.50" y2="585.80" stroke="#3cae3c" stroke-width="1.1" />
<circle cx="450.80" cy="585.80" r="2.50" fill="#3cae3c" stroke="#277127" stroke-width="0.5" />
<text x="461.3" y="588.0" font-size="8.8" text-anchor="start" fill="#2b2b2b" font-weight="normal" font-style="normal" textLength="37.8" lengthAdjust="spacingAndGlyphs"  stroke="#2b2b2b" stroke-width="0.18">Ruxolitinib</text>
<line x1="444.00" y1="604.00" x2="457.50" y2="604.00" stroke="#0b6b4b" stroke-width="1.1" />
<circle cx="450.80" cy="604.00" r="2.50" fill="#0b6b4b" stroke="#074530" stroke-width="0.5" />
<text x="461.3" y="601.7" font-size="8.8" text-anchor="start" fill="#2b2b2b" font-weight="normal" font-style="normal" textLength="37.5" lengthAdjust="spacingAndGlyphs"  stroke="#2b2b2b" stroke-width="0.18">CB-839 +</text>
<text x="461.3" y="611.2" font-size="8.8" text-anchor="start" fill="#2b2b2b" font-weight="normal" font-style="normal" textLength="37.8" lengthAdjust="spacingAndGlyphs"  stroke="#2b2b2b" stroke-width="0.18">Ruxolitinib</text>
<text x="43.75" y="603.75" font-size="10.5" text-anchor="start" fill="#2b2b2b" font-weight="normal" font-style="normal" textLength="83.2" lengthAdjust="spacingAndGlyphs"  stroke="#2b2b2b" stroke-width="0.18">Ter119+ (% GFP)</text>
<line x1="43.30" y1="616.30" x2="43.30" y2="721.10" stroke="#161616" stroke-width="1.55" />
<line x1="40.10" y1="619.25" x2="43.30" y2="619.25" stroke="#161616" stroke-width="1" />
<text x="37.0" y="622.15" font-size="8.2" text-anchor="end" fill="#2b2b2b" font-weight="normal" font-style="normal" textLength="14.850000000000001" lengthAdjust="spacingAndGlyphs"  stroke="#2b2b2b" stroke-width="0.18">100</text>
<line x1="40.10" y1="639.50" x2="43.30" y2="639.50" stroke="#161616" stroke-width="1" />
<text x="37.0" y="642.4" font-size="8.2" text-anchor="end" fill="#2b2b2b" font-weight="normal" font-style="normal" textLength="9.9" lengthAdjust="spacingAndGlyphs"  stroke="#2b2b2b" stroke-width="0.18">80</text>
<line x1="40.10" y1="659.75" x2="43.30" y2="659.75" stroke="#161616" stroke-width="1" />
<text x="37.0" y="662.65" font-size="8.2" text-anchor="end" fill="#2b2b2b" font-weight="normal" font-style="normal" textLength="9.9" lengthAdjust="spacingAndGlyphs"  stroke="#2b2b2b" stroke-width="0.18">60</text>
<line x1="40.10" y1="680.00" x2="43.30" y2="680.00" stroke="#161616" stroke-width="1" />
<text x="37.0" y="682.9" font-size="8.2" text-anchor="end" fill="#2b2b2b" font-weight="normal" font-style="normal" textLength="9.9" lengthAdjust="spacingAndGlyphs"  stroke="#2b2b2b" stroke-width="0.18">40</text>
<line x1="40.10" y1="700.25" x2="43.30" y2="700.25" stroke="#161616" stroke-width="1" />
<text x="37.0" y="703.15" font-size="8.2" text-anchor="end" fill="#2b2b2b" font-weight="normal" font-style="normal" textLength="9.9" lengthAdjust="spacingAndGlyphs"  stroke="#2b2b2b" stroke-width="0.18">20</text>
<line x1="40.10" y1="720.50" x2="43.30" y2="720.50" stroke="#161616" stroke-width="1" />
<text x="37.0" y="723.4" font-size="8.2" text-anchor="end" fill="#2b2b2b" font-weight="normal" font-style="normal" textLength="4.95" lengthAdjust="spacingAndGlyphs"  stroke="#2b2b2b" stroke-width="0.18">0</text>
<line x1="42.70" y1="720.50" x2="127.60" y2="720.50" stroke="#161616" stroke-width="1.55" />
<line x1="49.25" y1="720.50" x2="49.25" y2="723.10" stroke="#161616" stroke-width="1" />
<line x1="68.75" y1="720.50" x2="68.75" y2="723.10" stroke="#161616" stroke-width="1" />
<line x1="88.25" y1="720.50" x2="88.25" y2="723.10" stroke="#161616" stroke-width="1" />
<line x1="107.75" y1="720.50" x2="107.75" y2="723.10" stroke="#161616" stroke-width="1" />
<line x1="120.75" y1="720.50" x2="120.75" y2="723.10" stroke="#161616" stroke-width="1" />
<text x="49.25" y="735.5" font-size="8.2" text-anchor="middle" fill="#2b2b2b" font-weight="normal" font-style="normal" textLength="4.9" lengthAdjust="spacingAndGlyphs"  stroke="#2b2b2b" stroke-width="0.18">0</text>
<text x="68.75" y="735.5" font-size="8.2" text-anchor="middle" fill="#2b2b2b" font-weight="normal" font-style="normal" textLength="4.9" lengthAdjust="spacingAndGlyphs"  stroke="#2b2b2b" stroke-width="0.18">3</text>
<text x="88.25" y="735.5" font-size="8.2" text-anchor="middle" fill="#2b2b2b" font-weight="normal" font-style="normal" textLength="4.9" lengthAdjust="spacingAndGlyphs"  stroke="#2b2b2b" stroke-width="0.18">6</text>
<text x="107.75" y="735.5" font-size="8.2" text-anchor="middle" fill="#2b2b2b" font-weight="normal" font-style="normal" textLength="4.9" lengthAdjust="spacingAndGlyphs"  stroke="#2b2b2b" stroke-width="0.18">9</text>
<text x="119.95" y="735.5" font-size="8.2" text-anchor="middle" fill="#2b2b2b" font-weight="normal" font-style="normal" textLength="9.4" lengthAdjust="spacingAndGlyphs"  stroke="#2b2b2b" stroke-width="0.18">11</text>
<path d="M49.25,646.59 L68.75,629.38 L88.25,623.30 L107.75,621.27 L120.75,621.27" fill="none" stroke="#f39200" stroke-width="1.2" />
<line x1="49.25" y1="645.07" x2="49.25" y2="648.11" stroke="#f39200" stroke-width="0.9" />
<line x1="46.65" y1="645.07" x2="51.85" y2="645.07" stroke="#f39200" stroke-width="1.1" />
<line x1="46.65" y1="648.11" x2="51.85" y2="648.11" stroke="#f39200" stroke-width="1.1" />
<line x1="68.75" y1="627.86" x2="68.75" y2="630.89" stroke="#f39200" stroke-width="0.9" />
<line x1="66.15" y1="627.86" x2="71.35" y2="627.86" stroke="#f39200" stroke-width="1.1" />
<line x1="66.15" y1="630.89" x2="71.35" y2="630.89" stroke="#f39200" stroke-width="1.1" />
<line x1="88.25" y1="622.29" x2="88.25" y2="624.31" stroke="#f39200" stroke-width="0.9" />
<line x1="85.65" y1="622.29" x2="90.85" y2="622.29" stroke="#f39200" stroke-width="1.1" />
<line x1="85.65" y1="624.31" x2="90.85" y2="624.31" stroke="#f39200" stroke-width="1.1" />
<line x1="107.75" y1="620.26" x2="107.75" y2="622.29" stroke="#f39200" stroke-width="0.9" />
<line x1="105.15" y1="620.26" x2="110.35" y2="620.26" stroke="#f39200" stroke-width="1.1" />
<line x1="105.15" y1="622.29" x2="110.35" y2="622.29" stroke="#f39200" stroke-width="1.1" />
<line x1="120.75" y1="620.26" x2="120.75" y2="622.29" stroke="#f39200" stroke-width="0.9" />
<line x1="118.15" y1="620.26" x2="123.35" y2="620.26" stroke="#f39200" stroke-width="1.1" />
<line x1="118.15" y1="622.29" x2="123.35" y2="622.29" stroke="#f39200" stroke-width="1.1" />
<circle cx="49.25" cy="646.59" r="2.40" fill="#f39200" stroke="#9d5e00" stroke-width="0.5" />
<circle cx="68.75" cy="629.38" r="2.40" fill="#f39200" stroke="#9d5e00" stroke-width="0.5" />
<circle cx="88.25" cy="623.30" r="2.40" fill="#f39200" stroke="#9d5e00" stroke-width="0.5" />
<circle cx="107.75" cy="621.27" r="2.40" fill="#f39200" stroke="#9d5e00" stroke-width="0.5" />
<circle cx="120.75" cy="621.27" r="2.40" fill="#f39200" stroke="#9d5e00" stroke-width="0.5" />
<path d="M49.25,643.04 L68.75,626.03 L88.25,623.30 L107.75,622.29 L120.75,621.78" fill="none" stroke="#3cae3c" stroke-width="1.2" />
<line x1="49.25" y1="641.52" x2="49.25" y2="644.56" stroke="#3cae3c" stroke-width="0.9" />
<line x1="46.65" y1="641.52" x2="51.85" y2="641.52" stroke="#3cae3c" stroke-width="1.1" />
<line x1="46.65" y1="644.56" x2="51.85" y2="644.56" stroke="#3cae3c" stroke-width="1.1" />
<line x1="68.75" y1="625.02" x2="68.75" y2="627.05" stroke="#3cae3c" stroke-width="0.9" />
<line x1="66.15" y1="625.02" x2="71.35" y2="625.02" stroke="#3cae3c" stroke-width="1.1" />
<line x1="66.15" y1="627.05" x2="71.35" y2="627.05" stroke="#3cae3c" stroke-width="1.1" />
<line x1="88.25" y1="622.29" x2="88.25" y2="624.31" stroke="#3cae3c" stroke-width="0.9" />
<line x1="85.65" y1="622.29" x2="90.85" y2="622.29" stroke="#3cae3c" stroke-width="1.1" />
<line x1="85.65" y1="624.31" x2="90.85" y2="624.31" stroke="#3cae3c" stroke-width="1.1" />
<line x1="107.75" y1="620.77" x2="107.75" y2="623.81" stroke="#3cae3c" stroke-width="0.9" />
<line x1="105.15" y1="620.77" x2="110.35" y2="620.77" stroke="#3cae3c" stroke-width="1.1" />
<line x1="105.15" y1="623.81" x2="110.35" y2="623.81" stroke="#3cae3c" stroke-width="1.1" />
<line x1="120.75" y1="620.26" x2="120.75" y2="623.30" stroke="#3cae3c" stroke-width="0.9" />
<line x1="118.15" y1="620.26" x2="123.35" y2="620.26" stroke="#3cae3c" stroke-width="1.1" />
<line x1="118.15" y1="623.30" x2="123.35" y2="623.30" stroke="#3cae3c" stroke-width="1.1" />
<circle cx="49.25" cy="643.04" r="2.40" fill="#3cae3c" stroke="#277127" stroke-width="0.5" />
<circle cx="68.75" cy="626.03" r="2.40" fill="#3cae3c" stroke="#277127" stroke-width="0.5" />
<circle cx="88.25" cy="623.30" r="2.40" fill="#3cae3c" stroke="#277127" stroke-width="0.5" />
<circle cx="107.75" cy="622.29" r="2.40" fill="#3cae3c" stroke="#277127" stroke-width="0.5" />
<circle cx="120.75" cy="621.78" r="2.40" fill="#3cae3c" stroke="#277127" stroke-width="0.5" />
<path d="M49.25,644.36 L68.75,627.35 L88.25,623.50 L107.75,625.53 L120.75,625.53" fill="none" stroke="#0b6b4b" stroke-width="1.2" />
<line x1="49.25" y1="642.84" x2="49.25" y2="645.88" stroke="#0b6b4b" stroke-width="0.9" />
<line x1="46.65" y1="642.84" x2="51.85" y2="642.84" stroke="#0b6b4b" stroke-width="1.1" />
<line x1="46.65" y1="645.88" x2="51.85" y2="645.88" stroke="#0b6b4b" stroke-width="1.1" />
<line x1="68.75" y1="626.34" x2="68.75" y2="628.36" stroke="#0b6b4b" stroke-width="0.9" />
<line x1="66.15" y1="626.34" x2="71.35" y2="626.34" stroke="#0b6b4b" stroke-width="1.1" />
<line x1="66.15" y1="628.36" x2="71.35" y2="628.36" stroke="#0b6b4b" stroke-width="1.1" />
<line x1="88.25" y1="622.49" x2="88.25" y2="624.51" stroke="#0b6b4b" stroke-width="0.9" />
<line x1="85.65" y1="622.49" x2="90.85" y2="622.49" stroke="#0b6b4b" stroke-width="1.1" />
<line x1="85.65" y1="624.51" x2="90.85" y2="624.51" stroke="#0b6b4b" stroke-width="1.1" />
<line x1="107.75" y1="623.00" x2="107.75" y2="628.06" stroke="#0b6b4b" stroke-width="0.9" />
<line x1="105.15" y1="623.00" x2="110.35" y2="623.00" stroke="#0b6b4b" stroke-width="1.1" />
<line x1="105.15" y1="628.06" x2="110.35" y2="628.06" stroke="#0b6b4b" stroke-width="1.1" />
<line x1="120.75" y1="622.49" x2="120.75" y2="628.57" stroke="#0b6b4b" stroke-width="0.9" />
<line x1="118.15" y1="622.49" x2="123.35" y2="622.49" stroke="#0b6b4b" stroke-width="1.1" />
<line x1="118.15" y1="628.57" x2="123.35" y2="628.57" stroke="#0b6b4b" stroke-width="1.1" />
<circle cx="49.25" cy="644.36" r="2.40" fill="#0b6b4b" stroke="#074530" stroke-width="0.5" />
<circle cx="68.75" cy="627.35" r="2.40" fill="#0b6b4b" stroke="#074530" stroke-width="0.5" />
<circle cx="88.25" cy="623.50" r="2.40" fill="#0b6b4b" stroke="#074530" stroke-width="0.5" />
<circle cx="107.75" cy="625.53" r="2.40" fill="#0b6b4b" stroke="#074530" stroke-width="0.5" />
<circle cx="120.75" cy="625.53" r="2.40" fill="#0b6b4b" stroke="#074530" stroke-width="0.5" />
<path d="M49.25,649.12 L68.75,629.78 L88.25,622.29 L107.75,619.76 L120.75,619.25" fill="none" stroke="#c8102e" stroke-width="1.2" />
<line x1="49.25" y1="647.60" x2="49.25" y2="650.64" stroke="#c8102e" stroke-width="0.9" />
<line x1="46.65" y1="647.60" x2="51.85" y2="647.60" stroke="#c8102e" stroke-width="1.1" />
<line x1="46.65" y1="650.64" x2="51.85" y2="650.64" stroke="#c8102e" stroke-width="1.1" />
<line x1="68.75" y1="628.26" x2="68.75" y2="631.30" stroke="#c8102e" stroke-width="0.9" />
<line x1="66.15" y1="628.26" x2="71.35" y2="628.26" stroke="#c8102e" stroke-width="1.1" />
<line x1="66.15" y1="631.30" x2="71.35" y2="631.30" stroke="#c8102e" stroke-width="1.1" />
<line x1="88.25" y1="621.27" x2="88.25" y2="623.30" stroke="#c8102e" stroke-width="0.9" />
<line x1="85.65" y1="621.27" x2="90.85" y2="621.27" stroke="#c8102e" stroke-width="1.1" />
<line x1="85.65" y1="623.30" x2="90.85" y2="623.30" stroke="#c8102e" stroke-width="1.1" />
<line x1="107.75" y1="618.74" x2="107.75" y2="620.77" stroke="#c8102e" stroke-width="0.9" />
<line x1="105.15" y1="618.74" x2="110.35" y2="618.74" stroke="#c8102e" stroke-width="1.1" />
<line x1="105.15" y1="620.77" x2="110.35" y2="620.77" stroke="#c8102e" stroke-width="1.1" />
<line x1="120.75" y1="618.24" x2="120.75" y2="620.26" stroke="#c8102e" stroke-width="0.9" />
<line x1="118.15" y1="618.24" x2="123.35" y2="618.24" stroke="#c8102e" stroke-width="1.1" />
<line x1="118.15" y1="620.26" x2="123.35" y2="620.26" stroke="#c8102e" stroke-width="1.1" />
<circle cx="49.25" cy="649.12" r="2.40" fill="#c8102e" stroke="#820a1d" stroke-width="0.5" />
<circle cx="68.75" cy="629.78" r="2.40" fill="#c8102e" stroke="#820a1d" stroke-width="0.5" />
<circle cx="88.25" cy="622.29" r="2.40" fill="#c8102e" stroke="#820a1d" stroke-width="0.5" />
<circle cx="107.75" cy="619.76" r="2.40" fill="#c8102e" stroke="#820a1d" stroke-width="0.5" />
<circle cx="120.75" cy="619.25" r="2.40" fill="#c8102e" stroke="#820a1d" stroke-width="0.5" />
<text x="52.5" y="750.4" font-size="9.9" text-anchor="start" fill="#2b2b2b" font-weight="normal" font-style="normal" textLength="65.5" lengthAdjust="spacingAndGlyphs" stroke="#2b2b2b" stroke-width="0.25">Weeks of treatment</text>
<text x="185" y="603.75" font-size="10.5" text-anchor="start" fill="#2b2b2b" font-weight="normal" font-style="normal" textLength="80.5" lengthAdjust="spacingAndGlyphs"  stroke="#2b2b2b" stroke-width="0.18">CD61+ (% GFP)</text>
<line x1="183.30" y1="616.30" x2="183.30" y2="721.10" stroke="#161616" stroke-width="1.55" />
<line x1="180.10" y1="619.25" x2="183.30" y2="619.25" stroke="#161616" stroke-width="1" />
<text x="177.0" y="622.15" font-size="8.2" text-anchor="end" fill="#2b2b2b" font-weight="normal" font-style="normal" textLength="14.850000000000001" lengthAdjust="spacingAndGlyphs"  stroke="#2b2b2b" stroke-width="0.18">100</text>
<line x1="180.10" y1="639.50" x2="183.30" y2="639.50" stroke="#161616" stroke-width="1" />
<text x="177.0" y="642.4" font-size="8.2" text-anchor="end" fill="#2b2b2b" font-weight="normal" font-style="normal" textLength="9.9" lengthAdjust="spacingAndGlyphs"  stroke="#2b2b2b" stroke-width="0.18">80</text>
<line x1="180.10" y1="659.75" x2="183.30" y2="659.75" stroke="#161616" stroke-width="1" />
<text x="177.0" y="662.65" font-size="8.2" text-anchor="end" fill="#2b2b2b" font-weight="normal" font-style="normal" textLength="9.9" lengthAdjust="spacingAndGlyphs"  stroke="#2b2b2b" stroke-width="0.18">60</text>
<line x1="180.10" y1="680.00" x2="183.30" y2="680.00" stroke="#161616" stroke-width="1" />
<text x="177.0" y="682.9" font-size="8.2" text-anchor="end" fill="#2b2b2b" font-weight="normal" font-style="normal" textLength="9.9" lengthAdjust="spacingAndGlyphs"  stroke="#2b2b2b" stroke-width="0.18">40</text>
<line x1="180.10" y1="700.25" x2="183.30" y2="700.25" stroke="#161616" stroke-width="1" />
<text x="177.0" y="703.15" font-size="8.2" text-anchor="end" fill="#2b2b2b" font-weight="normal" font-style="normal" textLength="9.9" lengthAdjust="spacingAndGlyphs"  stroke="#2b2b2b" stroke-width="0.18">20</text>
<line x1="180.10" y1="720.50" x2="183.30" y2="720.50" stroke="#161616" stroke-width="1" />
<text x="177.0" y="723.4" font-size="8.2" text-anchor="end" fill="#2b2b2b" font-weight="normal" font-style="normal" textLength="4.95" lengthAdjust="spacingAndGlyphs"  stroke="#2b2b2b" stroke-width="0.18">0</text>
<line x1="182.70" y1="720.50" x2="267.60" y2="720.50" stroke="#161616" stroke-width="1.55" />
<line x1="189.25" y1="720.50" x2="189.25" y2="723.10" stroke="#161616" stroke-width="1" />
<line x1="208.75" y1="720.50" x2="208.75" y2="723.10" stroke="#161616" stroke-width="1" />
<line x1="228.25" y1="720.50" x2="228.25" y2="723.10" stroke="#161616" stroke-width="1" />
<line x1="247.75" y1="720.50" x2="247.75" y2="723.10" stroke="#161616" stroke-width="1" />
<line x1="260.75" y1="720.50" x2="260.75" y2="723.10" stroke="#161616" stroke-width="1" />
<text x="189.25" y="735.5" font-size="8.2" text-anchor="middle" fill="#2b2b2b" font-weight="normal" font-style="normal" textLength="4.9" lengthAdjust="spacingAndGlyphs"  stroke="#2b2b2b" stroke-width="0.18">0</text>
<text x="208.75" y="735.5" font-size="8.2" text-anchor="middle" fill="#2b2b2b" font-weight="normal" font-style="normal" textLength="4.9" lengthAdjust="spacingAndGlyphs"  stroke="#2b2b2b" stroke-width="0.18">3</text>
<text x="228.25" y="735.5" font-size="8.2" text-anchor="middle" fill="#2b2b2b" font-weight="normal" font-style="normal" textLength="4.9" lengthAdjust="spacingAndGlyphs"  stroke="#2b2b2b" stroke-width="0.18">6</text>
<text x="247.75" y="735.5" font-size="8.2" text-anchor="middle" fill="#2b2b2b" font-weight="normal" font-style="normal" textLength="4.9" lengthAdjust="spacingAndGlyphs"  stroke="#2b2b2b" stroke-width="0.18">9</text>
<text x="259.95" y="735.5" font-size="8.2" text-anchor="middle" fill="#2b2b2b" font-weight="normal" font-style="normal" textLength="9.4" lengthAdjust="spacingAndGlyphs"  stroke="#2b2b2b" stroke-width="0.18">11</text>
<path d="M189.25,657.73 L208.75,636.46 L228.25,635.45 L247.75,636.77 L260.75,635.45" fill="none" stroke="#f39200" stroke-width="1.2" />
<line x1="189.25" y1="654.69" x2="189.25" y2="660.76" stroke="#f39200" stroke-width="0.9" />
<line x1="186.65" y1="654.69" x2="191.85" y2="654.69" stroke="#f39200" stroke-width="1.1" />
<line x1="186.65" y1="660.76" x2="191.85" y2="660.76" stroke="#f39200" stroke-width="1.1" />
<line x1="208.75" y1="632.41" x2="208.75" y2="640.51" stroke="#f39200" stroke-width="0.9" />
<line x1="206.15" y1="632.41" x2="211.35" y2="632.41" stroke="#f39200" stroke-width="1.1" />
<line x1="206.15" y1="640.51" x2="211.35" y2="640.51" stroke="#f39200" stroke-width="1.1" />
<line x1="228.25" y1="632.41" x2="228.25" y2="638.49" stroke="#f39200" stroke-width="0.9" />
<line x1="225.65" y1="632.41" x2="230.85" y2="632.41" stroke="#f39200" stroke-width="1.1" />
<line x1="225.65" y1="638.49" x2="230.85" y2="638.49" stroke="#f39200" stroke-width="1.1" />
<line x1="247.75" y1="631.70" x2="247.75" y2="641.83" stroke="#f39200" stroke-width="0.9" />
<line x1="245.15" y1="631.70" x2="250.35" y2="631.70" stroke="#f39200" stroke-width="1.1" />
<line x1="245.15" y1="641.83" x2="250.35" y2="641.83" stroke="#f39200" stroke-width="1.1" />
<line x1="260.75" y1="630.39" x2="260.75" y2="640.51" stroke="#f39200" stroke-width="0.9" />
<line x1="258.15" y1="630.39" x2="263.35" y2="630.39" stroke="#f39200" stroke-width="1.1" />
<line x1="258.15" y1="640.51" x2="263.35" y2="640.51" stroke="#f39200" stroke-width="1.1" />
<circle cx="189.25" cy="657.73" r="2.40" fill="#f39200" stroke="#9d5e00" stroke-width="0.5" />
<circle cx="208.75" cy="636.46" r="2.40" fill="#f39200" stroke="#9d5e00" stroke-width="0.5" />
<circle cx="228.25" cy="635.45" r="2.40" fill="#f39200" stroke="#9d5e00" stroke-width="0.5" />
<circle cx="247.75" cy="636.77" r="2.40" fill="#f39200" stroke="#9d5e00" stroke-width="0.5" />
<circle cx="260.75" cy="635.45" r="2.40" fill="#f39200" stroke="#9d5e00" stroke-width="0.5" />
<path d="M189.25,654.08 L208.75,636.46 L228.25,634.84 L247.75,631.00 L260.75,629.38" fill="none" stroke="#3cae3c" stroke-width="1.2" />
<line x1="189.25" y1="651.04" x2="189.25" y2="657.12" stroke="#3cae3c" stroke-width="0.9" />
<line x1="186.65" y1="651.04" x2="191.85" y2="651.04" stroke="#3cae3c" stroke-width="1.1" />
<line x1="186.65" y1="657.12" x2="191.85" y2="657.12" stroke="#3cae3c" stroke-width="1.1" />
<line x1="208.75" y1="633.42" x2="208.75" y2="639.50" stroke="#3cae3c" stroke-width="0.9" />
<line x1="206.15" y1="633.42" x2="211.35" y2="633.42" stroke="#3cae3c" stroke-width="1.1" />
<line x1="206.15" y1="639.50" x2="211.35" y2="639.50" stroke="#3cae3c" stroke-width="1.1" />
<line x1="228.25" y1="632.82" x2="228.25" y2="636.87" stroke="#3cae3c" stroke-width="0.9" />
<line x1="225.65" y1="632.82" x2="230.85" y2="632.82" stroke="#3cae3c" stroke-width="1.1" />
<line x1="225.65" y1="636.87" x2="230.85" y2="636.87" stroke="#3cae3c" stroke-width="1.1" />
<line x1="247.75" y1="628.97" x2="247.75" y2="633.02" stroke="#3cae3c" stroke-width="0.9" />
<line x1="245.15" y1="628.97" x2="250.35" y2="628.97" stroke="#3cae3c" stroke-width="1.1" />
<line x1="245.15" y1="633.02" x2="250.35" y2="633.02" stroke="#3cae3c" stroke-width="1.1" />
<line x1="260.75" y1="627.35" x2="260.75" y2="631.40" stroke="#3cae3c" stroke-width="0.9" />
<line x1="258.15" y1="627.35" x2="263.35" y2="627.35" stroke="#3cae3c" stroke-width="1.1" />
<line x1="258.15" y1="631.40" x2="263.35" y2="631.40" stroke="#3cae3c" stroke-width="1.1" />
<circle cx="189.25" cy="654.08" r="2.40" fill="#3cae3c" stroke="#277127" stroke-width="0.5" />
<circle cx="208.75" cy="636.46" r="2.40" fill="#3cae3c" stroke="#277127" stroke-width="0.5" />
<circle cx="228.25" cy="634.84" r="2.40" fill="#3cae3c" stroke="#277127" stroke-width="0.5" />
<circle cx="247.75" cy="631.00" r="2.40" fill="#3cae3c" stroke="#277127" stroke-width="0.5" />
<circle cx="260.75" cy="629.38" r="2.40" fill="#3cae3c" stroke="#277127" stroke-width="0.5" />
<path d="M189.25,649.12 L208.75,640.51 L228.25,640.51 L247.75,639.80 L260.75,638.08" fill="none" stroke="#0b6b4b" stroke-width="1.2" />
<line x1="189.25" y1="644.06" x2="189.25" y2="654.18" stroke="#0b6b4b" stroke-width="0.9" />
<line x1="186.65" y1="644.06" x2="191.85" y2="644.06" stroke="#0b6b4b" stroke-width="1.1" />
<line x1="186.65" y1="654.18" x2="191.85" y2="654.18" stroke="#0b6b4b" stroke-width="1.1" />
<line x1="208.75" y1="634.44" x2="208.75" y2="646.59" stroke="#0b6b4b" stroke-width="0.9" />
<line x1="206.15" y1="634.44" x2="211.35" y2="634.44" stroke="#0b6b4b" stroke-width="1.1" />
<line x1="206.15" y1="646.59" x2="211.35" y2="646.59" stroke="#0b6b4b" stroke-width="1.1" />
<line x1="228.25" y1="633.42" x2="228.25" y2="647.60" stroke="#0b6b4b" stroke-width="0.9" />
<line x1="225.65" y1="633.42" x2="230.85" y2="633.42" stroke="#0b6b4b" stroke-width="1.1" />
<line x1="225.65" y1="647.60" x2="230.85" y2="647.60" stroke="#0b6b4b" stroke-width="1.1" />
<line x1="247.75" y1="629.68" x2="247.75" y2="649.93" stroke="#0b6b4b" stroke-width="0.9" />
<line x1="245.15" y1="629.68" x2="250.35" y2="629.68" stroke="#0b6b4b" stroke-width="1.1" />
<line x1="245.15" y1="649.93" x2="250.35" y2="649.93" stroke="#0b6b4b" stroke-width="1.1" />
<line x1="260.75" y1="629.98" x2="260.75" y2="646.18" stroke="#0b6b4b" stroke-width="0.9" />
<line x1="258.15" y1="629.98" x2="263.35" y2="629.98" stroke="#0b6b4b" stroke-width="1.1" />
<line x1="258.15" y1="646.18" x2="263.35" y2="646.18" stroke="#0b6b4b" stroke-width="1.1" />
<circle cx="189.25" cy="649.12" r="2.40" fill="#0b6b4b" stroke="#074530" stroke-width="0.5" />
<circle cx="208.75" cy="640.51" r="2.40" fill="#0b6b4b" stroke="#074530" stroke-width="0.5" />
<circle cx="228.25" cy="640.51" r="2.40" fill="#0b6b4b" stroke="#074530" stroke-width="0.5" />
<circle cx="247.75" cy="639.80" r="2.40" fill="#0b6b4b" stroke="#074530" stroke-width="0.5" />
<circle cx="260.75" cy="638.08" r="2.40" fill="#0b6b4b" stroke="#074530" stroke-width="0.5" />
<path d="M189.25,664.10 L208.75,635.55 L228.25,631.00 L247.75,627.35 L260.75,626.74" fill="none" stroke="#c8102e" stroke-width="1.2" />
<line x1="189.25" y1="659.04" x2="189.25" y2="669.17" stroke="#c8102e" stroke-width="0.9" />
<line x1="186.65" y1="659.04" x2="191.85" y2="659.04" stroke="#c8102e" stroke-width="1.1" />
<line x1="186.65" y1="669.17" x2="191.85" y2="669.17" stroke="#c8102e" stroke-width="1.1" />
<line x1="208.75" y1="632.51" x2="208.75" y2="638.59" stroke="#c8102e" stroke-width="0.9" />
<line x1="206.15" y1="632.51" x2="211.35" y2="632.51" stroke="#c8102e" stroke-width="1.1" />
<line x1="206.15" y1="638.59" x2="211.35" y2="638.59" stroke="#c8102e" stroke-width="1.1" />
<line x1="228.25" y1="629.48" x2="228.25" y2="632.51" stroke="#c8102e" stroke-width="0.9" />
<line x1="225.65" y1="629.48" x2="230.85" y2="629.48" stroke="#c8102e" stroke-width="1.1" />
<line x1="225.65" y1="632.51" x2="230.85" y2="632.51" stroke="#c8102e" stroke-width="1.1" />
<line x1="247.75" y1="625.83" x2="247.75" y2="628.87" stroke="#c8102e" stroke-width="0.9" />
<line x1="245.15" y1="625.83" x2="250.35" y2="625.83" stroke="#c8102e" stroke-width="1.1" />
<line x1="245.15" y1="628.87" x2="250.35" y2="628.87" stroke="#c8102e" stroke-width="1.1" />
<line x1="260.75" y1="625.22" x2="260.75" y2="628.26" stroke="#c8102e" stroke-width="0.9" />
<line x1="258.15" y1="625.22" x2="263.35" y2="625.22" stroke="#c8102e" stroke-width="1.1" />
<line x1="258.15" y1="628.26" x2="263.35" y2="628.26" stroke="#c8102e" stroke-width="1.1" />
<circle cx="189.25" cy="664.10" r="2.40" fill="#c8102e" stroke="#820a1d" stroke-width="0.5" />
<circle cx="208.75" cy="635.55" r="2.40" fill="#c8102e" stroke="#820a1d" stroke-width="0.5" />
<circle cx="228.25" cy="631.00" r="2.40" fill="#c8102e" stroke="#820a1d" stroke-width="0.5" />
<circle cx="247.75" cy="627.35" r="2.40" fill="#c8102e" stroke="#820a1d" stroke-width="0.5" />
<circle cx="260.75" cy="626.74" r="2.40" fill="#c8102e" stroke="#820a1d" stroke-width="0.5" />
<text x="337.5" y="591.25" font-size="10.5" text-anchor="start" fill="#2b2b2b" font-weight="normal" font-style="normal" textLength="67.5" lengthAdjust="spacingAndGlyphs"  stroke="#2b2b2b" stroke-width="0.18">Gr1+CD11b+</text>
<text x="350" y="603.75" font-size="10.5" text-anchor="start" fill="#2b2b2b" font-weight="normal" font-style="normal" textLength="41.3" lengthAdjust="spacingAndGlyphs"  stroke="#2b2b2b" stroke-width="0.18">(% GFP)</text>
<line x1="328.60" y1="616.30" x2="328.60" y2="721.10" stroke="#161616" stroke-width="1.55" />
<line x1="325.40" y1="619.25" x2="328.60" y2="619.25" stroke="#161616" stroke-width="1" />
<text x="322.3" y="622.15" font-size="8.2" text-anchor="end" fill="#2b2b2b" font-weight="normal" font-style="normal" textLength="14.850000000000001" lengthAdjust="spacingAndGlyphs"  stroke="#2b2b2b" stroke-width="0.18">100</text>
<line x1="325.40" y1="639.50" x2="328.60" y2="639.50" stroke="#161616" stroke-width="1" />
<text x="322.3" y="642.4" font-size="8.2" text-anchor="end" fill="#2b2b2b" font-weight="normal" font-style="normal" textLength="9.9" lengthAdjust="spacingAndGlyphs"  stroke="#2b2b2b" stroke-width="0.18">80</text>
<line x1="325.40" y1="659.75" x2="328.60" y2="659.75" stroke="#161616" stroke-width="1" />
<text x="322.3" y="662.65" font-size="8.2" text-anchor="end" fill="#2b2b2b" font-weight="normal" font-style="normal" textLength="9.9" lengthAdjust="spacingAndGlyphs"  stroke="#2b2b2b" stroke-width="0.18">60</text>
<line x1="325.40" y1="680.00" x2="328.60" y2="680.00" stroke="#161616" stroke-width="1" />
<text x="322.3" y="682.9" font-size="8.2" text-anchor="end" fill="#2b2b2b" font-weight="normal" font-style="normal" textLength="9.9" lengthAdjust="spacingAndGlyphs"  stroke="#2b2b2b" stroke-width="0.18">40</text>
<line x1="325.40" y1="700.25" x2="328.60" y2="700.25" stroke="#161616" stroke-width="1" />
<text x="322.3" y="703.15" font-size="8.2" text-anchor="end" fill="#2b2b2b" font-weight="normal" font-style="normal" textLength="9.9" lengthAdjust="spacingAndGlyphs"  stroke="#2b2b2b" stroke-width="0.18">20</text>
<line x1="325.40" y1="720.50" x2="328.60" y2="720.50" stroke="#161616" stroke-width="1" />
<text x="322.3" y="723.4" font-size="8.2" text-anchor="end" fill="#2b2b2b" font-weight="normal" font-style="normal" textLength="4.95" lengthAdjust="spacingAndGlyphs"  stroke="#2b2b2b" stroke-width="0.18">0</text>
<line x1="328.00" y1="720.50" x2="412.90" y2="720.50" stroke="#161616" stroke-width="1.55" />
<line x1="335.00" y1="720.50" x2="335.00" y2="723.10" stroke="#161616" stroke-width="1" />
<line x1="354.50" y1="720.50" x2="354.50" y2="723.10" stroke="#161616" stroke-width="1" />
<line x1="374.00" y1="720.50" x2="374.00" y2="723.10" stroke="#161616" stroke-width="1" />
<line x1="393.50" y1="720.50" x2="393.50" y2="723.10" stroke="#161616" stroke-width="1" />
<line x1="406.50" y1="720.50" x2="406.50" y2="723.10" stroke="#161616" stroke-width="1" />
<text x="335.0" y="735.5" font-size="8.2" text-anchor="middle" fill="#2b2b2b" font-weight="normal" font-style="normal" textLength="4.9" lengthAdjust="spacingAndGlyphs"  stroke="#2b2b2b" stroke-width="0.18">0</text>
<text x="354.5" y="735.5" font-size="8.2" text-anchor="middle" fill="#2b2b2b" font-weight="normal" font-style="normal" textLength="4.9" lengthAdjust="spacingAndGlyphs"  stroke="#2b2b2b" stroke-width="0.18">3</text>
<text x="374.0" y="735.5" font-size="8.2" text-anchor="middle" fill="#2b2b2b" font-weight="normal" font-style="normal" textLength="4.9" lengthAdjust="spacingAndGlyphs"  stroke="#2b2b2b" stroke-width="0.18">6</text>
<text x="393.5" y="735.5" font-size="8.2" text-anchor="middle" fill="#2b2b2b" font-weight="normal" font-style="normal" textLength="4.9" lengthAdjust="spacingAndGlyphs"  stroke="#2b2b2b" stroke-width="0.18">9</text>
<text x="405.7" y="735.5" font-size="8.2" text-anchor="middle" fill="#2b2b2b" font-weight="normal" font-style="normal" textLength="9.4" lengthAdjust="spacingAndGlyphs"  stroke="#2b2b2b" stroke-width="0.18">11</text>
<path d="M335.00,629.38 L354.50,621.78 L374.00,620.77 L393.50,620.77 L406.50,622.79" fill="none" stroke="#f39200" stroke-width="1.2" />
<line x1="335.00" y1="627.35" x2="335.00" y2="631.40" stroke="#f39200" stroke-width="0.9" />
<line x1="332.40" y1="627.35" x2="337.60" y2="627.35" stroke="#f39200" stroke-width="1.1" />
<line x1="332.40" y1="631.40" x2="337.60" y2="631.40" stroke="#f39200" stroke-width="1.1" />
<line x1="354.50" y1="620.77" x2="354.50" y2="622.79" stroke="#f39200" stroke-width="0.9" />
<line x1="351.90" y1="620.77" x2="357.10" y2="620.77" stroke="#f39200" stroke-width="1.1" />
<line x1="351.90" y1="622.79" x2="357.10" y2="622.79" stroke="#f39200" stroke-width="1.1" />
<line x1="374.00" y1="619.76" x2="374.00" y2="621.78" stroke="#f39200" stroke-width="0.9" />
<line x1="371.40" y1="619.76" x2="376.60" y2="619.76" stroke="#f39200" stroke-width="1.1" />
<line x1="371.40" y1="621.78" x2="376.60" y2="621.78" stroke="#f39200" stroke-width="1.1" />
<line x1="393.50" y1="619.76" x2="393.50" y2="621.78" stroke="#f39200" stroke-width="0.9" />
<line x1="390.90" y1="619.76" x2="396.10" y2="619.76" stroke="#f39200" stroke-width="1.1" />
<line x1="390.90" y1="621.78" x2="396.10" y2="621.78" stroke="#f39200" stroke-width="1.1" />
<line x1="406.50" y1="621.27" x2="406.50" y2="624.31" stroke="#f39200" stroke-width="0.9" />
<line x1="403.90" y1="621.27" x2="409.10" y2="621.27" stroke="#f39200" stroke-width="1.1" />
<line x1="403.90" y1="624.31" x2="409.10" y2="624.31" stroke="#f39200" stroke-width="1.1" />
<circle cx="335.00" cy="629.38" r="2.40" fill="#f39200" stroke="#9d5e00" stroke-width="0.5" />
<circle cx="354.50" cy="621.78" r="2.40" fill="#f39200" stroke="#9d5e00" stroke-width="0.5" />
<circle cx="374.00" cy="620.77" r="2.40" fill="#f39200" stroke="#9d5e00" stroke-width="0.5" />
<circle cx="393.50" cy="620.77" r="2.40" fill="#f39200" stroke="#9d5e00" stroke-width="0.5" />
<circle cx="406.50" cy="622.79" r="2.40" fill="#f39200" stroke="#9d5e00" stroke-width="0.5" />
<path d="M335.00,631.40 L354.50,622.29 L374.00,620.77 L393.50,620.77 L406.50,621.78" fill="none" stroke="#3cae3c" stroke-width="1.2" />
<line x1="335.00" y1="629.38" x2="335.00" y2="633.42" stroke="#3cae3c" stroke-width="0.9" />
<line x1="332.40" y1="629.38" x2="337.60" y2="629.38" stroke="#3cae3c" stroke-width="1.1" />
<line x1="332.40" y1="633.42" x2="337.60" y2="633.42" stroke="#3cae3c" stroke-width="1.1" />
<line x1="354.50" y1="621.27" x2="354.50" y2="623.30" stroke="#3cae3c" stroke-width="0.9" />
<line x1="351.90" y1="621.27" x2="357.10" y2="621.27" stroke="#3cae3c" stroke-width="1.1" />
<line x1="351.90" y1="623.30" x2="357.10" y2="623.30" stroke="#3cae3c" stroke-width="1.1" />
<line x1="374.00" y1="619.76" x2="374.00" y2="621.78" stroke="#3cae3c" stroke-width="0.9" />
<line x1="371.40" y1="619.76" x2="376.60" y2="619.76" stroke="#3cae3c" stroke-width="1.1" />
<line x1="371.40" y1="621.78" x2="376.60" y2="621.78" stroke="#3cae3c" stroke-width="1.1" />
<line x1="393.50" y1="619.76" x2="393.50" y2="621.78" stroke="#3cae3c" stroke-width="0.9" />
<line x1="390.90" y1="619.76" x2="396.10" y2="619.76" stroke="#3cae3c" stroke-width="1.1" />
<line x1="390.90" y1="621.78" x2="396.10" y2="621.78" stroke="#3cae3c" stroke-width="1.1" />
<line x1="406.50" y1="620.77" x2="406.50" y2="622.79" stroke="#3cae3c" stroke-width="0.9" />
<line x1="403.90" y1="620.77" x2="409.10" y2="620.77" stroke="#3cae3c" stroke-width="1.1" />
<line x1="403.90" y1="622.79" x2="409.10" y2="622.79" stroke="#3cae3c" stroke-width="1.1" />
<circle cx="335.00" cy="631.40" r="2.40" fill="#3cae3c" stroke="#277127" stroke-width="0.5" />
<circle cx="354.50" cy="622.29" r="2.40" fill="#3cae3c" stroke="#277127" stroke-width="0.5" />
<circle cx="374.00" cy="620.77" r="2.40" fill="#3cae3c" stroke="#277127" stroke-width="0.5" />
<circle cx="393.50" cy="620.77" r="2.40" fill="#3cae3c" stroke="#277127" stroke-width="0.5" />
<circle cx="406.50" cy="621.78" r="2.40" fill="#3cae3c" stroke="#277127" stroke-width="0.5" />
<path d="M335.00,625.83 L354.50,621.78 L374.00,620.77 L393.50,620.26 L406.50,621.27" fill="none" stroke="#0b6b4b" stroke-width="1.2" />
<line x1="335.00" y1="624.31" x2="335.00" y2="627.35" stroke="#0b6b4b" stroke-width="0.9" />
<line x1="332.40" y1="624.31" x2="337.60" y2="624.31" stroke="#0b6b4b" stroke-width="1.1" />
<line x1="332.40" y1="627.35" x2="337.60" y2="627.35" stroke="#0b6b4b" stroke-width="1.1" />
<line x1="354.50" y1="620.77" x2="354.50" y2="622.79" stroke="#0b6b4b" stroke-width="0.9" />
<line x1="351.90" y1="620.77" x2="357.10" y2="620.77" stroke="#0b6b4b" stroke-width="1.1" />
<line x1="351.90" y1="622.79" x2="357.10" y2="622.79" stroke="#0b6b4b" stroke-width="1.1" />
<line x1="374.00" y1="619.76" x2="374.00" y2="621.78" stroke="#0b6b4b" stroke-width="0.9" />
<line x1="371.40" y1="619.76" x2="376.60" y2="619.76" stroke="#0b6b4b" stroke-width="1.1" />
<line x1="371.40" y1="621.78" x2="376.60" y2="621.78" stroke="#0b6b4b" stroke-width="1.1" />
<line x1="393.50" y1="619.25" x2="393.50" y2="621.27" stroke="#0b6b4b" stroke-width="0.9" />
<line x1="390.90" y1="619.25" x2="396.10" y2="619.25" stroke="#0b6b4b" stroke-width="1.1" />
<line x1="390.90" y1="621.27" x2="396.10" y2="621.27" stroke="#0b6b4b" stroke-width="1.1" />
<line x1="406.50" y1="620.26" x2="406.50" y2="622.29" stroke="#0b6b4b" stroke-width="0.9" />
<line x1="403.90" y1="620.26" x2="409.10" y2="620.26" stroke="#0b6b4b" stroke-width="1.1" />
<line x1="403.90" y1="622.29" x2="409.10" y2="622.29" stroke="#0b6b4b" stroke-width="1.1" />
<circle cx="335.00" cy="625.83" r="2.40" fill="#0b6b4b" stroke="#074530" stroke-width="0.5" />
<circle cx="354.50" cy="621.78" r="2.40" fill="#0b6b4b" stroke="#074530" stroke-width="0.5" />
<circle cx="374.00" cy="620.77" r="2.40" fill="#0b6b4b" stroke="#074530" stroke-width="0.5" />
<circle cx="393.50" cy="620.26" r="2.40" fill="#0b6b4b" stroke="#074530" stroke-width="0.5" />
<circle cx="406.50" cy="621.27" r="2.40" fill="#0b6b4b" stroke="#074530" stroke-width="0.5" />
<path d="M335.00,637.48 L354.50,621.27 L374.00,620.77 L393.50,620.26 L406.50,621.27" fill="none" stroke="#c8102e" stroke-width="1.2" />
<line x1="335.00" y1="631.40" x2="335.00" y2="643.55" stroke="#c8102e" stroke-width="0.9" />
<line x1="332.40" y1="631.40" x2="337.60" y2="631.40" stroke="#c8102e" stroke-width="1.1" />
<line x1="332.40" y1="643.55" x2="337.60" y2="643.55" stroke="#c8102e" stroke-width="1.1" />
<line x1="354.50" y1="620.26" x2="354.50" y2="622.29" stroke="#c8102e" stroke-width="0.9" />
<line x1="351.90" y1="620.26" x2="357.10" y2="620.26" stroke="#c8102e" stroke-width="1.1" />
<line x1="351.90" y1="622.29" x2="357.10" y2="622.29" stroke="#c8102e" stroke-width="1.1" />
<line x1="374.00" y1="619.76" x2="374.00" y2="621.78" stroke="#c8102e" stroke-width="0.9" />
<line x1="371.40" y1="619.76" x2="376.60" y2="619.76" stroke="#c8102e" stroke-width="1.1" />
<line x1="371.40" y1="621.78" x2="376.60" y2="621.78" stroke="#c8102e" stroke-width="1.1" />
<line x1="393.50" y1="619.25" x2="393.50" y2="621.27" stroke="#c8102e" stroke-width="0.9" />
<line x1="390.90" y1="619.25" x2="396.10" y2="619.25" stroke="#c8102e" stroke-width="1.1" />
<line x1="390.90" y1="621.27" x2="396.10" y2="621.27" stroke="#c8102e" stroke-width="1.1" />
<line x1="406.50" y1="620.26" x2="406.50" y2="622.29" stroke="#c8102e" stroke-width="0.9" />
<line x1="403.90" y1="620.26" x2="409.10" y2="620.26" stroke="#c8102e" stroke-width="1.1" />
<line x1="403.90" y1="622.29" x2="409.10" y2="622.29" stroke="#c8102e" stroke-width="1.1" />
<circle cx="335.00" cy="637.48" r="2.40" fill="#c8102e" stroke="#820a1d" stroke-width="0.5" />
<circle cx="354.50" cy="621.27" r="2.40" fill="#c8102e" stroke="#820a1d" stroke-width="0.5" />
<circle cx="374.00" cy="620.77" r="2.40" fill="#c8102e" stroke="#820a1d" stroke-width="0.5" />
<circle cx="393.50" cy="620.26" r="2.40" fill="#c8102e" stroke="#820a1d" stroke-width="0.5" />
<circle cx="406.50" cy="621.27" r="2.40" fill="#c8102e" stroke="#820a1d" stroke-width="0.5" />
<rect x="0.6" y="0.6" width="518.8" height="759.8" fill="none" stroke="#3c3c3c" stroke-width="1.2"/>
</svg></body></html>
